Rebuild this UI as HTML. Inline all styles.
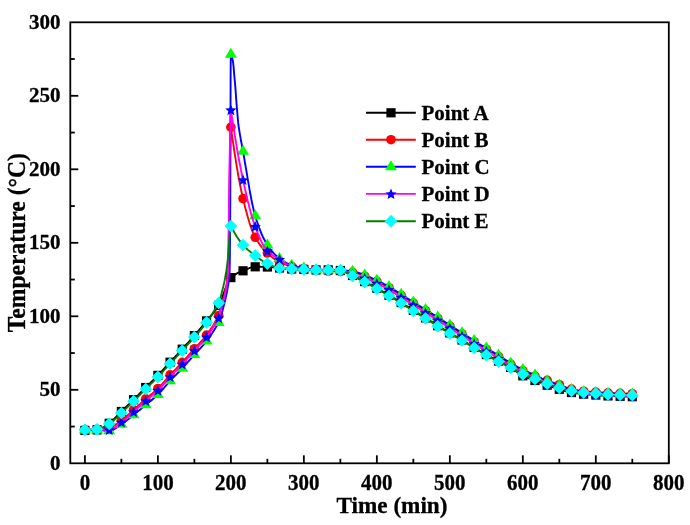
<!DOCTYPE html>
<html><head><meta charset="utf-8"><style>
html,body{margin:0;padding:0;background:#fff;}
body{width:690px;height:525px;overflow:hidden;}
svg{display:block;}
text{font-family:"Liberation Serif",serif;font-weight:bold;font-size:21px;fill:#000;stroke:#000;stroke-width:0.3px;}
text.lg{font-size:21px;}
text.ttl{font-size:23.2px;}
text.ttl2{font-size:23.6px;}
svg{will-change:transform;}
</style></head><body>
<svg width="690" height="525" viewBox="0 0 690 525">
<rect width="690" height="525" fill="#fff"/>
<path d="M84.9,430.4 L86.0,430.4 L87.1,430.4 L88.2,430.4 L89.3,430.3 L90.4,430.3 L91.5,430.2 L92.6,430.1 L93.7,430.1 L94.8,430.0 L95.9,429.9 L97.0,429.8 L98.1,429.7 L99.2,429.4 L100.3,429.0 L101.4,428.5 L102.4,427.9 L103.5,427.2 L104.6,426.5 L105.7,425.8 L106.8,425.0 L107.9,424.2 L109.0,423.4 L110.1,422.6 L111.2,421.8 L112.3,420.8 L113.4,419.7 L114.5,418.6 L115.6,417.5 L116.7,416.4 L117.8,415.2 L118.9,414.0 L120.0,412.9 L121.1,411.8 L122.2,410.7 L123.3,409.7 L124.4,408.6 L125.5,407.5 L126.6,406.5 L127.7,405.4 L128.8,404.4 L129.9,403.3 L131.0,402.2 L132.1,401.2 L133.2,400.1 L134.3,399.0 L135.4,397.9 L136.5,396.8 L137.6,395.7 L138.7,394.6 L139.7,393.5 L140.8,392.4 L141.9,391.3 L143.0,390.2 L144.1,389.1 L145.2,388.0 L146.3,386.9 L147.4,385.8 L148.5,384.7 L149.6,383.6 L150.7,382.6 L151.8,381.5 L152.9,380.4 L154.0,379.3 L155.1,378.2 L156.2,377.1 L157.3,376.0 L158.4,374.9 L159.5,373.7 L160.6,372.5 L161.7,371.4 L162.8,370.2 L163.9,369.0 L165.0,367.7 L166.1,366.5 L167.2,365.3 L168.3,364.1 L169.4,362.9 L170.5,361.8 L171.6,360.6 L172.7,359.4 L173.8,358.2 L174.9,357.1 L175.9,355.9 L177.0,354.8 L178.1,353.6 L179.2,352.4 L180.3,351.2 L181.4,350.0 L182.5,348.9 L183.6,347.7 L184.7,346.5 L185.8,345.2 L186.9,344.0 L188.0,342.8 L189.1,341.6 L190.2,340.4 L191.3,339.1 L192.4,337.9 L193.5,336.6 L194.6,335.3 L195.7,334.1 L196.8,332.8 L197.9,331.5 L199.0,330.2 L200.1,328.8 L201.2,327.5 L202.3,326.2 L203.4,324.8 L204.5,323.5 L205.6,322.1 L206.7,320.7 L207.8,319.4 L208.9,318.1 L210.0,316.9 L211.1,315.6 L212.2,314.3 L213.2,313.0 L214.3,311.6 L215.4,310.2 L216.5,308.7 L217.6,307.1 L218.7,305.4 L219.8,303.3 L220.9,300.8 L222.0,298.1 L223.1,295.1 L224.2,292.0 L225.3,288.9 L226.4,286.0 L227.5,283.3 L228.6,280.9 L229.7,279.0 L230.8,277.7 L231.9,276.7 L233.0,275.9 L234.1,275.1 L235.2,274.4 L236.3,273.8 L237.4,273.2 L238.5,272.7 L239.6,272.2 L240.7,271.8 L241.8,271.3 L242.9,270.9 L244.0,270.4 L245.1,269.9 L246.2,269.4 L247.3,268.9 L248.4,268.5 L249.4,268.0 L250.5,267.7 L251.6,267.3 L252.7,267.1 L253.8,266.9 L254.9,266.8 L256.0,266.8 L257.1,266.8 L258.2,266.8 L259.3,266.8 L260.4,266.8 L261.5,266.9 L262.6,266.9 L263.7,266.9 L264.8,266.9 L265.9,267.0 L267.0,267.0 L268.1,267.0 L269.2,267.1 L270.3,267.1 L271.4,267.2 L272.5,267.3 L273.6,267.4 L274.7,267.5 L275.8,267.6 L276.9,267.8 L278.0,267.9 L279.1,268.0 L280.2,268.1 L281.3,268.1 L282.4,268.3 L283.5,268.4 L284.6,268.5 L285.7,268.6 L286.7,268.7 L287.8,268.7 L288.9,268.8 L290.0,268.9 L291.1,269.0 L292.2,269.0 L293.3,269.1 L294.4,269.1 L295.5,269.1 L296.6,269.2 L297.7,269.2 L298.8,269.2 L299.9,269.3 L301.0,269.3 L302.1,269.3 L303.2,269.4 L304.3,269.4 L305.4,269.5 L306.5,269.5 L307.6,269.6 L308.7,269.6 L309.8,269.7 L310.9,269.8 L312.0,269.8 L313.1,269.8 L314.2,269.9 L315.3,269.9 L316.4,269.9 L317.5,269.9 L318.6,269.9 L319.7,269.9 L320.8,269.9 L321.9,269.9 L322.9,269.9 L324.0,269.9 L325.1,269.9 L326.2,269.9 L327.3,269.9 L328.4,269.9 L329.5,269.9 L330.6,269.9 L331.7,270.0 L332.8,270.0 L333.9,270.0 L335.0,270.1 L336.1,270.2 L337.2,270.2 L338.3,270.3 L339.4,270.4 L340.5,270.5 L341.6,270.7 L342.7,271.0 L343.8,271.3 L344.9,271.7 L346.0,272.2 L347.1,272.8 L348.2,273.3 L349.3,273.9 L350.4,274.5 L351.5,275.0 L352.6,275.5 L353.7,276.0 L354.8,276.5 L355.9,277.1 L357.0,277.6 L358.1,278.2 L359.2,278.7 L360.2,279.3 L361.3,279.9 L362.4,280.4 L363.5,281.0 L364.6,281.6 L365.7,282.1 L366.8,282.7 L367.9,283.3 L369.0,283.9 L370.1,284.5 L371.2,285.1 L372.3,285.7 L373.4,286.3 L374.5,286.9 L375.6,287.5 L376.7,288.1 L377.8,288.7 L378.9,289.4 L380.0,290.0 L381.1,290.6 L382.2,291.3 L383.3,291.9 L384.4,292.6 L385.5,293.2 L386.6,293.9 L387.7,294.5 L388.8,295.2 L389.9,295.8 L391.0,296.5 L392.1,297.1 L393.2,297.8 L394.3,298.4 L395.4,299.1 L396.4,299.7 L397.5,300.4 L398.6,301.0 L399.7,301.7 L400.8,302.4 L401.9,303.1 L403.0,303.8 L404.1,304.5 L405.2,305.2 L406.3,305.9 L407.4,306.6 L408.5,307.3 L409.6,308.0 L410.7,308.7 L411.8,309.4 L412.9,310.1 L414.0,310.8 L415.1,311.5 L416.2,312.2 L417.3,312.8 L418.4,313.5 L419.5,314.2 L420.6,314.9 L421.7,315.5 L422.8,316.2 L423.9,316.9 L425.0,317.6 L426.1,318.3 L427.2,319.0 L428.3,319.7 L429.4,320.4 L430.5,321.1 L431.6,321.8 L432.7,322.5 L433.7,323.2 L434.8,323.9 L435.9,324.6 L437.0,325.3 L438.1,326.0 L439.2,326.7 L440.3,327.3 L441.4,328.0 L442.5,328.6 L443.6,329.3 L444.7,329.9 L445.8,330.5 L446.9,331.2 L448.0,331.8 L449.1,332.5 L450.2,333.1 L451.3,333.8 L452.4,334.4 L453.5,335.0 L454.6,335.7 L455.7,336.3 L456.8,336.9 L457.9,337.6 L459.0,338.2 L460.1,338.9 L461.2,339.5 L462.3,340.2 L463.4,340.8 L464.5,341.5 L465.6,342.1 L466.7,342.8 L467.8,343.5 L468.9,344.2 L469.9,344.8 L471.0,345.5 L472.1,346.2 L473.2,346.8 L474.3,347.5 L475.4,348.2 L476.5,348.8 L477.6,349.5 L478.7,350.1 L479.8,350.8 L480.9,351.5 L482.0,352.1 L483.1,352.8 L484.2,353.4 L485.3,354.0 L486.4,354.6 L487.5,355.3 L488.6,355.9 L489.7,356.5 L490.8,357.0 L491.9,357.6 L493.0,358.2 L494.1,358.8 L495.2,359.4 L496.3,359.9 L497.4,360.5 L498.5,361.1 L499.6,361.7 L500.7,362.2 L501.8,362.8 L502.9,363.3 L504.0,363.8 L505.1,364.4 L506.1,364.9 L507.2,365.5 L508.3,366.1 L509.4,366.7 L510.5,367.3 L511.6,368.0 L512.7,368.7 L513.8,369.5 L514.9,370.4 L516.0,371.2 L517.1,372.0 L518.2,372.9 L519.3,373.7 L520.4,374.4 L521.5,375.1 L522.6,375.7 L523.7,376.2 L524.8,376.7 L525.9,377.2 L527.0,377.6 L528.1,378.0 L529.2,378.4 L530.3,378.8 L531.4,379.2 L532.5,379.6 L533.6,380.0 L534.7,380.4 L535.8,380.8 L536.9,381.2 L538.0,381.7 L539.1,382.1 L540.2,382.5 L541.3,383.0 L542.4,383.4 L543.4,383.8 L544.5,384.2 L545.6,384.6 L546.7,385.1 L547.8,385.4 L548.9,385.8 L550.0,386.2 L551.1,386.6 L552.2,387.0 L553.3,387.4 L554.4,387.7 L555.5,388.1 L556.6,388.5 L557.7,388.8 L558.8,389.1 L559.9,389.5 L561.0,389.8 L562.1,390.1 L563.2,390.5 L564.3,390.8 L565.4,391.1 L566.5,391.4 L567.6,391.7 L568.7,391.9 L569.8,392.2 L570.9,392.4 L572.0,392.6 L573.1,392.8 L574.2,392.9 L575.3,393.1 L576.4,393.3 L577.5,393.4 L578.6,393.5 L579.6,393.7 L580.7,393.8 L581.8,393.9 L582.9,394.0 L584.0,394.1 L585.1,394.2 L586.2,394.3 L587.3,394.4 L588.4,394.5 L589.5,394.6 L590.6,394.6 L591.7,394.7 L592.8,394.8 L593.9,394.9 L595.0,394.9 L596.1,395.0 L597.2,395.1 L598.3,395.2 L599.4,395.3 L600.5,395.4 L601.6,395.5 L602.7,395.6 L603.8,395.6 L604.9,395.7 L606.0,395.8 L607.1,395.9 L608.2,395.9 L609.3,396.0 L610.4,396.0 L611.5,396.0 L612.6,396.1 L613.7,396.1 L614.8,396.1 L615.9,396.2 L616.9,396.2 L618.0,396.2 L619.1,396.3 L620.2,396.3 L621.3,396.3 L622.4,396.4 L623.5,396.4 L624.6,396.4 L625.7,396.5 L626.8,396.5 L627.9,396.6 L629.0,396.6 L630.1,396.6 L631.2,396.7 L632.3,396.7" fill="none" stroke="#000000" stroke-width="1.90" stroke-linejoin="round"/>
<rect x="80.30" y="425.80" width="9.20" height="9.20" fill="#000000"/>
<rect x="92.46" y="425.20" width="9.20" height="9.20" fill="#000000"/>
<rect x="104.63" y="418.70" width="9.20" height="9.20" fill="#000000"/>
<rect x="116.79" y="406.90" width="9.20" height="9.20" fill="#000000"/>
<rect x="128.96" y="395.10" width="9.20" height="9.20" fill="#000000"/>
<rect x="141.12" y="382.90" width="9.20" height="9.20" fill="#000000"/>
<rect x="153.29" y="370.80" width="9.20" height="9.20" fill="#000000"/>
<rect x="165.45" y="357.60" width="9.20" height="9.20" fill="#000000"/>
<rect x="177.61" y="344.60" width="9.20" height="9.20" fill="#000000"/>
<rect x="189.78" y="331.00" width="9.20" height="9.20" fill="#000000"/>
<rect x="201.94" y="316.30" width="9.20" height="9.20" fill="#000000"/>
<rect x="214.11" y="300.80" width="9.20" height="9.20" fill="#000000"/>
<rect x="226.27" y="273.00" width="9.20" height="9.20" fill="#000000"/>
<rect x="238.44" y="266.20" width="9.20" height="9.20" fill="#000000"/>
<rect x="250.60" y="262.20" width="9.20" height="9.20" fill="#000000"/>
<rect x="262.77" y="262.40" width="9.20" height="9.20" fill="#000000"/>
<rect x="274.93" y="263.40" width="9.20" height="9.20" fill="#000000"/>
<rect x="287.10" y="264.40" width="9.20" height="9.20" fill="#000000"/>
<rect x="299.26" y="264.80" width="9.20" height="9.20" fill="#000000"/>
<rect x="311.43" y="265.30" width="9.20" height="9.20" fill="#000000"/>
<rect x="323.59" y="265.30" width="9.20" height="9.20" fill="#000000"/>
<rect x="335.75" y="265.90" width="9.20" height="9.20" fill="#000000"/>
<rect x="347.92" y="270.90" width="9.20" height="9.20" fill="#000000"/>
<rect x="360.08" y="277.00" width="9.20" height="9.20" fill="#000000"/>
<rect x="372.25" y="283.60" width="9.20" height="9.20" fill="#000000"/>
<rect x="384.41" y="290.70" width="9.20" height="9.20" fill="#000000"/>
<rect x="396.58" y="298.00" width="9.20" height="9.20" fill="#000000"/>
<rect x="408.74" y="305.80" width="9.20" height="9.20" fill="#000000"/>
<rect x="420.91" y="313.30" width="9.20" height="9.20" fill="#000000"/>
<rect x="433.07" y="321.10" width="9.20" height="9.20" fill="#000000"/>
<rect x="445.24" y="328.30" width="9.20" height="9.20" fill="#000000"/>
<rect x="457.40" y="335.40" width="9.20" height="9.20" fill="#000000"/>
<rect x="469.57" y="342.80" width="9.20" height="9.20" fill="#000000"/>
<rect x="481.73" y="350.00" width="9.20" height="9.20" fill="#000000"/>
<rect x="493.90" y="356.50" width="9.20" height="9.20" fill="#000000"/>
<rect x="506.06" y="362.80" width="9.20" height="9.20" fill="#000000"/>
<rect x="518.22" y="371.20" width="9.20" height="9.20" fill="#000000"/>
<rect x="530.39" y="375.90" width="9.20" height="9.20" fill="#000000"/>
<rect x="542.55" y="380.60" width="9.20" height="9.20" fill="#000000"/>
<rect x="554.72" y="384.70" width="9.20" height="9.20" fill="#000000"/>
<rect x="566.88" y="387.90" width="9.20" height="9.20" fill="#000000"/>
<rect x="579.05" y="389.50" width="9.20" height="9.20" fill="#000000"/>
<rect x="591.21" y="390.40" width="9.20" height="9.20" fill="#000000"/>
<rect x="603.38" y="391.30" width="9.20" height="9.20" fill="#000000"/>
<rect x="615.54" y="391.70" width="9.20" height="9.20" fill="#000000"/>
<rect x="627.71" y="392.10" width="9.20" height="9.20" fill="#000000"/>
<path d="M84.9,429.8 L86.0,429.8 L87.1,429.8 L88.3,429.8 L89.4,429.7 L90.5,429.7 L91.6,429.7 L92.8,429.6 L93.9,429.6 L95.0,429.5 L96.1,429.4 L97.3,429.4 L98.4,429.3 L99.5,429.2 L100.6,429.1 L101.8,429.0 L102.9,428.9 L104.0,428.8 L105.1,428.6 L106.3,428.4 L107.4,428.3 L108.5,428.0 L109.6,427.8 L110.8,427.4 L111.9,427.0 L113.0,426.4 L114.1,425.7 L115.3,424.9 L116.4,424.1 L117.5,423.3 L118.6,422.4 L119.8,421.5 L120.9,420.7 L122.0,419.8 L123.1,419.0 L124.3,418.1 L125.4,417.2 L126.5,416.2 L127.6,415.2 L128.8,414.2 L129.9,413.2 L131.0,412.2 L132.1,411.2 L133.2,410.2 L134.4,409.2 L135.5,408.2 L136.6,407.2 L137.7,406.1 L138.9,405.1 L140.0,404.1 L141.1,403.0 L142.2,402.0 L143.4,401.0 L144.5,400.0 L145.6,399.0 L146.7,398.0 L147.9,397.1 L149.0,396.1 L150.1,395.2 L151.2,394.3 L152.4,393.4 L153.5,392.4 L154.6,391.5 L155.7,390.5 L156.9,389.5 L158.0,388.4 L159.1,387.3 L160.2,386.1 L161.4,384.8 L162.5,383.6 L163.6,382.3 L164.7,381.0 L165.9,379.6 L167.0,378.3 L168.1,377.1 L169.2,375.8 L170.4,374.6 L171.5,373.4 L172.6,372.2 L173.7,371.0 L174.9,369.9 L176.0,368.8 L177.1,367.6 L178.2,366.5 L179.4,365.3 L180.5,364.1 L181.6,363.0 L182.7,361.7 L183.9,360.5 L185.0,359.3 L186.1,358.0 L187.2,356.8 L188.3,355.5 L189.5,354.2 L190.6,353.0 L191.7,351.7 L192.8,350.4 L194.0,349.2 L195.1,347.9 L196.2,346.7 L197.3,345.5 L198.5,344.3 L199.6,343.1 L200.7,341.9 L201.8,340.7 L203.0,339.5 L204.1,338.2 L205.2,336.8 L206.3,335.4 L207.5,333.9 L208.6,332.3 L209.7,330.6 L210.8,328.9 L212.0,327.2 L213.1,325.4 L214.2,323.5 L215.3,321.6 L216.5,319.6 L217.6,317.6 L218.7,315.5 L218.9,315.0 L219.0,314.5 L219.2,313.9 L219.3,313.4 L219.5,312.9 L219.6,312.3 L219.8,311.8 L219.9,311.3 L220.1,310.7 L220.2,310.2 L220.4,309.6 L220.6,309.1 L220.7,308.5 L220.9,307.9 L221.0,307.4 L221.2,306.8 L221.3,306.2 L221.5,305.7 L221.6,305.1 L221.8,304.5 L221.9,303.9 L222.1,303.3 L222.3,302.7 L222.4,302.1 L222.6,301.6 L222.7,301.0 L222.9,300.4 L223.0,299.9 L223.2,299.3 L223.3,298.8 L223.5,298.2 L223.6,297.7 L223.8,297.1 L223.9,296.5 L224.1,296.0 L224.3,295.4 L224.4,294.8 L224.6,294.2 L224.7,293.5 L224.9,292.9 L225.0,292.2 L225.2,291.5 L225.3,290.8 L225.5,290.1 L225.6,289.3 L225.8,288.5 L225.9,287.6 L226.1,286.7 L226.3,285.9 L226.4,285.1 L226.6,284.3 L226.7,283.4 L226.9,282.5 L227.0,281.5 L227.2,280.4 L227.3,279.1 L227.5,277.7 L227.6,276.1 L227.8,274.3 L227.9,272.3 L228.1,270.0 L228.3,267.1 L228.4,260.8 L228.6,251.5 L228.7,240.9 L228.9,230.5 L229.0,220.9 L229.2,210.6 L229.3,200.0 L229.5,189.6 L229.6,180.0 L229.8,171.5 L229.9,163.9 L230.1,156.6 L230.3,149.7 L230.4,143.2 L230.6,137.3 L230.7,131.9 L230.9,127.2 L231.5,132.0 L232.2,136.7 L232.9,141.4 L233.6,145.9 L234.2,150.4 L234.9,154.8 L235.6,159.1 L236.2,163.2 L236.9,167.3 L237.6,171.2 L238.2,175.1 L238.9,178.8 L239.6,182.4 L240.3,185.8 L240.9,189.1 L241.6,192.3 L242.3,195.3 L242.9,198.2 L243.6,200.9 L244.3,203.6 L244.9,206.3 L245.6,208.9 L246.3,211.4 L247.0,213.9 L247.6,216.3 L248.3,218.7 L249.0,220.9 L249.6,223.1 L250.3,225.2 L251.0,227.2 L251.6,229.1 L252.3,230.9 L253.0,232.6 L253.7,234.1 L254.3,235.6 L255.0,236.9 L255.7,238.1 L256.3,239.3 L257.0,240.4 L257.7,241.5 L258.4,242.5 L259.0,243.5 L259.7,244.4 L260.4,245.3 L261.0,246.2 L261.7,247.0 L262.4,247.8 L263.0,248.6 L263.7,249.3 L264.4,250.0 L265.1,250.7 L265.7,251.4 L266.4,252.1 L267.1,252.7 L267.7,253.3 L268.4,254.0 L269.1,254.6 L269.7,255.2 L270.4,255.7 L271.1,256.3 L271.8,256.9 L272.4,257.4 L273.1,257.9 L273.8,258.4 L274.4,258.9 L275.1,259.4 L275.8,259.8 L276.4,260.3 L277.1,260.7 L277.8,261.1 L278.5,261.4 L279.1,261.8 L279.8,262.1 L280.5,262.5 L281.1,262.8 L281.8,263.1 L282.5,263.4 L283.1,263.7 L283.8,263.9 L284.5,264.2 L285.2,264.5 L285.8,264.7 L286.5,265.0 L287.2,265.2 L287.8,265.4 L288.5,265.6 L289.2,265.8 L289.8,266.0 L290.5,266.2 L291.2,266.4 L291.9,266.5 L292.5,266.7 L293.2,266.8 L293.9,267.0 L294.5,267.1 L295.2,267.2 L295.9,267.3 L296.6,267.5 L297.2,267.6 L297.9,267.7 L298.6,267.8 L299.2,267.9 L299.9,268.0 L300.6,268.1 L301.2,268.2 L301.9,268.3 L302.6,268.3 L303.3,268.4 L303.9,268.5 L304.6,268.6 L305.3,268.7 L305.9,268.7 L306.6,268.8 L307.3,268.8 L307.9,268.9 L308.6,269.0 L309.3,269.0 L310.0,269.1 L310.6,269.1 L311.3,269.2 L312.0,269.2 L312.6,269.3 L313.3,269.3 L314.0,269.4 L314.6,269.5 L315.3,269.5 L316.0,269.6 L316.7,269.7 L317.3,269.8 L318.0,269.8 L318.7,269.9 L319.3,270.0 L320.0,270.1 L320.7,270.2 L321.3,270.3 L322.0,270.4 L322.7,270.5 L323.4,270.6 L324.0,270.7 L324.7,270.8 L325.4,270.9 L326.0,270.9 L326.7,271.0 L327.4,271.1 L328.0,271.1 L328.7,271.1 L329.4,271.1 L330.1,271.2 L330.7,271.2 L331.4,271.2 L332.1,271.2 L332.7,271.2 L333.4,271.2 L334.1,271.3 L334.7,271.3 L335.4,271.3 L336.1,271.3 L336.8,271.3 L337.4,271.3 L338.1,271.3 L338.8,271.3 L339.4,271.4 L340.1,271.4 L340.8,271.4 L341.5,271.4 L342.1,271.5 L342.8,271.5 L343.5,271.5 L344.1,271.6 L344.8,271.6 L345.5,271.7 L346.1,271.7 L346.8,271.8 L347.5,271.8 L348.2,271.9 L348.8,271.9 L349.5,272.0 L350.2,272.0 L350.8,272.1 L351.5,272.2 L352.2,272.3 L352.8,272.3 L353.5,272.4 L354.2,272.6 L354.9,272.7 L355.5,272.9 L356.2,273.1 L356.9,273.3 L357.5,273.5 L358.2,273.7 L358.9,274.0 L359.5,274.2 L360.2,274.5 L360.9,274.7 L361.6,275.0 L362.2,275.3 L362.9,275.5 L363.6,275.8 L364.2,276.0 L364.9,276.3 L365.6,276.5 L366.2,276.8 L366.9,277.1 L367.6,277.3 L368.3,277.6 L368.9,277.9 L369.6,278.1 L370.3,278.4 L370.9,278.7 L371.6,279.0 L372.3,279.3 L372.9,279.6 L373.6,279.9 L374.3,280.2 L375.0,280.5 L375.6,280.8 L376.3,281.1 L377.0,281.5 L377.6,281.8 L378.3,282.1 L379.0,282.4 L379.7,282.7 L380.3,283.1 L381.0,283.4 L381.7,283.7 L382.3,284.1 L383.0,284.4 L383.7,284.8 L384.3,285.1 L385.0,285.5 L385.7,285.9 L386.4,286.2 L387.0,286.6 L387.7,287.0 L388.4,287.3 L389.0,287.7 L389.7,288.1 L390.4,288.5 L391.0,288.9 L391.7,289.3 L392.4,289.7 L393.1,290.1 L393.7,290.6 L394.4,291.0 L395.1,291.4 L395.7,291.9 L396.4,292.3 L397.1,292.7 L397.7,293.2 L398.4,293.6 L399.1,294.1 L399.8,294.5 L400.4,294.9 L401.1,295.3 L401.8,295.8 L402.4,296.2 L403.1,296.6 L403.8,297.0 L404.4,297.5 L405.1,297.9 L405.8,298.3 L406.5,298.7 L407.1,299.2 L407.8,299.6 L408.5,300.0 L409.1,300.4 L409.8,300.9 L410.5,301.3 L411.1,301.7 L411.8,302.1 L412.5,302.6 L413.2,303.0 L413.8,303.4 L414.5,303.8 L415.2,304.2 L415.8,304.7 L416.5,305.1 L417.2,305.5 L417.9,305.9 L418.5,306.3 L419.2,306.8 L419.9,307.2 L420.5,307.6 L421.2,308.0 L421.9,308.4 L422.5,308.9 L423.2,309.3 L423.9,309.7 L424.6,310.1 L425.2,310.5 L425.9,310.9 L426.6,311.4 L427.2,311.8 L427.9,312.2 L428.6,312.6 L429.2,313.0 L429.9,313.4 L430.6,313.8 L431.3,314.2 L431.9,314.6 L432.6,315.0 L433.3,315.5 L433.9,315.9 L434.6,316.3 L435.3,316.7 L435.9,317.1 L436.6,317.5 L437.3,318.0 L438.0,318.4 L438.6,318.8 L439.3,319.2 L440.0,319.7 L440.6,320.1 L441.3,320.5 L442.0,321.0 L442.6,321.4 L443.3,321.8 L444.0,322.3 L444.7,322.7 L445.3,323.2 L446.0,323.6 L446.7,324.0 L447.3,324.5 L448.0,324.9 L448.7,325.4 L449.3,325.8 L450.0,326.2 L450.7,326.6 L451.4,327.1 L452.0,327.5 L452.7,327.9 L453.4,328.4 L454.0,328.8 L454.7,329.2 L455.4,329.7 L456.1,330.1 L456.7,330.5 L457.4,330.9 L458.1,331.4 L458.7,331.8 L459.4,332.2 L460.1,332.7 L460.7,333.1 L461.4,333.5 L462.1,334.0 L462.8,334.4 L463.4,334.8 L464.1,335.2 L464.8,335.7 L465.4,336.1 L466.1,336.5 L466.8,337.0 L467.4,337.4 L468.1,337.8 L468.8,338.3 L469.5,338.7 L470.1,339.1 L470.8,339.6 L471.5,340.0 L472.1,340.4 L472.8,340.8 L473.5,341.3 L474.1,341.7 L474.8,342.1 L475.5,342.5 L476.2,342.9 L476.8,343.4 L477.5,343.8 L478.2,344.2 L478.8,344.6 L479.5,345.0 L480.2,345.5 L480.8,345.9 L481.5,346.3 L482.2,346.7 L482.9,347.1 L483.5,347.5 L484.2,347.9 L484.9,348.3 L485.5,348.7 L486.2,349.1 L486.9,349.5 L487.5,349.9 L488.2,350.3 L488.9,350.7 L489.6,351.1 L490.2,351.5 L490.9,351.9 L491.6,352.3 L492.2,352.6 L492.9,353.0 L493.6,353.4 L494.3,353.8 L494.9,354.2 L495.6,354.6 L496.3,355.0 L496.9,355.4 L497.6,355.8 L498.3,356.2 L498.9,356.6 L499.6,357.0 L500.3,357.4 L501.0,357.9 L501.6,358.3 L502.3,358.7 L503.0,359.2 L503.6,359.6 L504.3,360.1 L505.0,360.5 L505.6,360.9 L506.3,361.4 L507.0,361.8 L507.7,362.3 L508.3,362.7 L509.0,363.1 L509.7,363.5 L510.3,363.9 L511.0,364.3 L511.7,364.7 L512.3,365.1 L513.0,365.4 L513.7,365.8 L514.4,366.2 L515.0,366.6 L515.7,366.9 L516.4,367.3 L517.0,367.6 L517.7,368.0 L518.4,368.3 L519.0,368.7 L519.7,369.0 L520.4,369.4 L521.1,369.7 L521.7,370.1 L522.4,370.4 L523.1,370.7 L523.7,371.1 L524.4,371.4 L525.1,371.7 L525.7,372.0 L526.4,372.4 L527.1,372.7 L527.8,373.0 L528.4,373.3 L529.1,373.6 L529.8,374.0 L530.4,374.3 L531.1,374.6 L531.8,374.9 L532.5,375.2 L533.1,375.4 L533.8,375.7 L534.5,376.0 L535.1,376.3 L535.8,376.5 L536.5,376.8 L537.1,377.0 L537.8,377.3 L538.5,377.5 L539.2,377.7 L539.8,378.0 L540.5,378.2 L541.2,378.4 L541.8,378.6 L542.5,378.8 L543.2,379.1 L543.8,379.3 L544.5,379.5 L545.2,379.7 L545.9,380.0 L546.5,380.2 L547.2,380.4 L547.9,380.6 L548.5,380.9 L549.2,381.1 L549.9,381.4 L550.5,381.6 L551.2,381.8 L551.9,382.1 L552.6,382.3 L553.2,382.5 L553.9,382.8 L554.6,383.0 L555.2,383.2 L555.9,383.5 L556.6,383.7 L557.2,384.0 L557.9,384.2 L558.6,384.4 L559.3,384.7 L559.9,384.9 L560.6,385.2 L561.3,385.4 L561.9,385.7 L562.6,386.0 L563.3,386.2 L563.9,386.5 L564.6,386.8 L565.3,387.0 L566.0,387.3 L566.6,387.6 L567.3,387.8 L568.0,388.1 L568.6,388.3 L569.3,388.5 L570.0,388.7 L570.7,388.9 L571.3,389.1 L572.0,389.2 L572.7,389.4 L573.3,389.5 L574.0,389.7 L574.7,389.8 L575.3,389.9 L576.0,390.1 L576.7,390.2 L577.4,390.3 L578.0,390.4 L578.7,390.5 L579.4,390.6 L580.0,390.7 L580.7,390.8 L581.4,390.9 L582.0,391.0 L582.7,391.1 L583.4,391.2 L584.1,391.2 L584.7,391.3 L585.4,391.4 L586.1,391.4 L586.7,391.5 L587.4,391.5 L588.1,391.6 L588.7,391.6 L589.4,391.7 L590.1,391.7 L590.8,391.8 L591.4,391.8 L592.1,391.9 L592.8,391.9 L593.4,391.9 L594.1,392.0 L594.8,392.0 L595.4,392.1 L596.1,392.1 L596.8,392.2 L597.5,392.2 L598.1,392.2 L598.8,392.3 L599.5,392.3 L600.1,392.4 L600.8,392.4 L601.5,392.5 L602.1,392.5 L602.8,392.5 L603.5,392.6 L604.2,392.6 L604.8,392.6 L605.5,392.7 L606.2,392.7 L606.8,392.7 L607.5,392.8 L608.2,392.8 L608.9,392.8 L609.5,392.9 L610.2,392.9 L610.9,392.9 L611.5,393.0 L612.2,393.0 L612.9,393.0 L613.5,393.0 L614.2,393.1 L614.9,393.1 L615.6,393.1 L616.2,393.2 L616.9,393.2 L617.6,393.2 L618.2,393.2 L618.9,393.3 L619.6,393.3 L620.2,393.3 L620.9,393.3 L621.6,393.4 L622.3,393.4 L622.9,393.4 L623.6,393.4 L624.3,393.4 L624.9,393.5 L625.6,393.5 L626.3,393.5 L626.9,393.5 L627.6,393.6 L628.3,393.6 L629.0,393.6 L629.6,393.6 L630.3,393.6 L631.0,393.7 L631.6,393.7 L632.3,393.7" fill="none" stroke="#ff0000" stroke-width="1.90" stroke-linejoin="round"/>
<circle cx="84.90" cy="429.80" r="4.8" fill="#ff0000"/>
<circle cx="97.06" cy="429.40" r="4.8" fill="#ff0000"/>
<circle cx="109.23" cy="427.90" r="4.8" fill="#ff0000"/>
<circle cx="121.39" cy="420.30" r="4.8" fill="#ff0000"/>
<circle cx="133.56" cy="409.90" r="4.8" fill="#ff0000"/>
<circle cx="145.72" cy="398.90" r="4.8" fill="#ff0000"/>
<circle cx="157.89" cy="388.50" r="4.8" fill="#ff0000"/>
<circle cx="170.05" cy="374.90" r="4.8" fill="#ff0000"/>
<circle cx="182.21" cy="362.30" r="4.8" fill="#ff0000"/>
<circle cx="194.38" cy="348.70" r="4.8" fill="#ff0000"/>
<circle cx="206.54" cy="335.10" r="4.8" fill="#ff0000"/>
<circle cx="218.71" cy="315.50" r="4.8" fill="#ff0000"/>
<circle cx="230.87" cy="127.20" r="4.8" fill="#ff0000"/>
<circle cx="243.04" cy="198.60" r="4.8" fill="#ff0000"/>
<circle cx="255.20" cy="237.30" r="4.8" fill="#ff0000"/>
<circle cx="267.37" cy="253.00" r="4.8" fill="#ff0000"/>
<circle cx="279.53" cy="262.00" r="4.8" fill="#ff0000"/>
<circle cx="291.70" cy="266.50" r="4.8" fill="#ff0000"/>
<circle cx="303.86" cy="268.50" r="4.8" fill="#ff0000"/>
<circle cx="316.03" cy="269.60" r="4.8" fill="#ff0000"/>
<circle cx="328.19" cy="271.10" r="4.8" fill="#ff0000"/>
<circle cx="340.35" cy="271.40" r="4.8" fill="#ff0000"/>
<circle cx="352.52" cy="272.30" r="4.8" fill="#ff0000"/>
<circle cx="364.68" cy="276.20" r="4.8" fill="#ff0000"/>
<circle cx="376.85" cy="281.40" r="4.8" fill="#ff0000"/>
<circle cx="389.01" cy="287.70" r="4.8" fill="#ff0000"/>
<circle cx="401.18" cy="295.40" r="4.8" fill="#ff0000"/>
<circle cx="413.34" cy="303.10" r="4.8" fill="#ff0000"/>
<circle cx="425.51" cy="310.70" r="4.8" fill="#ff0000"/>
<circle cx="437.67" cy="318.20" r="4.8" fill="#ff0000"/>
<circle cx="449.84" cy="326.10" r="4.8" fill="#ff0000"/>
<circle cx="462.00" cy="333.90" r="4.8" fill="#ff0000"/>
<circle cx="474.17" cy="341.70" r="4.8" fill="#ff0000"/>
<circle cx="486.33" cy="349.20" r="4.8" fill="#ff0000"/>
<circle cx="498.50" cy="356.30" r="4.8" fill="#ff0000"/>
<circle cx="510.66" cy="364.10" r="4.8" fill="#ff0000"/>
<circle cx="522.82" cy="370.60" r="4.8" fill="#ff0000"/>
<circle cx="534.99" cy="376.20" r="4.8" fill="#ff0000"/>
<circle cx="547.15" cy="380.40" r="4.8" fill="#ff0000"/>
<circle cx="559.32" cy="384.70" r="4.8" fill="#ff0000"/>
<circle cx="571.48" cy="389.10" r="4.8" fill="#ff0000"/>
<circle cx="583.65" cy="391.20" r="4.8" fill="#ff0000"/>
<circle cx="595.81" cy="392.10" r="4.8" fill="#ff0000"/>
<circle cx="607.98" cy="392.80" r="4.8" fill="#ff0000"/>
<circle cx="620.14" cy="393.30" r="4.8" fill="#ff0000"/>
<circle cx="632.31" cy="393.70" r="4.8" fill="#ff0000"/>
<path d="M84.9,430.0 L86.0,430.0 L87.1,430.0 L88.3,430.0 L89.4,430.0 L90.5,430.0 L91.6,430.0 L92.8,430.0 L93.9,430.0 L95.0,430.0 L96.1,430.0 L97.3,430.0 L98.4,430.0 L99.5,430.1 L100.6,430.2 L101.8,430.3 L102.9,430.4 L104.0,430.5 L105.1,430.7 L106.3,430.8 L107.4,430.8 L108.5,430.9 L109.6,430.9 L110.8,430.7 L111.9,430.4 L113.0,429.9 L114.1,429.3 L115.3,428.6 L116.4,427.8 L117.5,427.0 L118.6,426.2 L119.8,425.4 L120.9,424.6 L122.0,423.9 L123.1,423.1 L124.3,422.3 L125.4,421.5 L126.5,420.6 L127.6,419.7 L128.8,418.8 L129.9,417.9 L131.0,417.0 L132.1,416.1 L133.2,415.1 L134.4,414.2 L135.5,413.3 L136.6,412.4 L137.7,411.5 L138.9,410.6 L140.0,409.7 L141.1,408.7 L142.2,407.8 L143.4,406.9 L144.5,405.9 L145.6,405.0 L146.7,404.0 L147.9,403.1 L149.0,402.2 L150.1,401.3 L151.2,400.4 L152.4,399.4 L153.5,398.5 L154.6,397.5 L155.7,396.5 L156.9,395.5 L158.0,394.4 L159.1,393.3 L160.2,392.1 L161.4,390.8 L162.5,389.6 L163.6,388.3 L164.7,387.0 L165.9,385.6 L167.0,384.3 L168.1,383.1 L169.2,381.8 L170.4,380.6 L171.5,379.4 L172.6,378.2 L173.7,377.0 L174.9,375.9 L176.0,374.8 L177.1,373.6 L178.2,372.5 L179.4,371.3 L180.5,370.1 L181.6,369.0 L182.7,367.7 L183.9,366.5 L185.0,365.3 L186.1,364.0 L187.2,362.8 L188.3,361.5 L189.5,360.2 L190.6,359.0 L191.7,357.7 L192.8,356.4 L194.0,355.2 L195.1,353.9 L196.2,352.7 L197.3,351.5 L198.5,350.3 L199.6,349.1 L200.7,347.9 L201.8,346.7 L203.0,345.4 L204.1,344.1 L205.2,342.8 L206.3,341.4 L207.5,339.9 L208.6,338.4 L209.7,336.8 L210.8,335.2 L212.0,333.5 L213.1,331.8 L214.2,330.0 L215.3,328.2 L216.5,326.3 L217.6,324.4 L218.7,322.5 L218.9,322.1 L219.0,321.7 L219.2,321.3 L219.3,320.8 L219.5,320.4 L219.6,319.9 L219.8,319.5 L219.9,319.0 L220.1,318.6 L220.2,318.1 L220.4,317.6 L220.6,317.1 L220.7,316.6 L220.9,316.1 L221.0,315.6 L221.2,315.1 L221.3,314.6 L221.5,314.1 L221.6,313.5 L221.8,313.0 L221.9,312.5 L222.1,311.9 L222.3,311.4 L222.4,310.8 L222.6,310.3 L222.7,309.7 L222.9,309.1 L223.0,308.6 L223.2,308.0 L223.3,307.4 L223.5,306.8 L223.6,306.2 L223.8,305.6 L223.9,305.1 L224.1,304.5 L224.3,303.9 L224.4,303.2 L224.6,302.6 L224.7,302.0 L224.9,301.4 L225.0,300.7 L225.2,300.1 L225.3,299.4 L225.5,298.8 L225.6,298.1 L225.8,297.4 L225.9,296.7 L226.1,296.0 L226.3,295.3 L226.4,294.5 L226.6,293.8 L226.7,293.0 L226.9,292.2 L227.0,291.4 L227.2,290.6 L227.3,289.7 L227.5,288.9 L227.6,288.0 L227.8,287.1 L227.9,286.2 L228.1,285.2 L228.3,284.2 L228.4,283.2 L228.6,282.1 L228.7,280.9 L228.9,279.7 L229.0,278.5 L229.2,277.2 L229.3,275.9 L229.5,274.2 L229.6,271.2 L229.8,263.0 L229.9,249.6 L230.1,230.8 L230.3,198.0 L230.4,152.5 L230.6,81.9 L230.7,62.1 L230.9,54.4 L231.5,55.4 L232.2,57.8 L232.9,61.0 L233.6,66.9 L234.2,74.6 L234.9,82.2 L235.6,90.4 L236.2,99.2 L236.9,108.0 L237.6,116.2 L238.2,122.9 L238.9,128.1 L239.6,132.6 L240.3,136.6 L240.9,140.3 L241.6,143.8 L242.3,147.2 L242.9,150.8 L243.6,154.6 L244.3,158.5 L244.9,162.4 L245.6,166.4 L246.3,170.4 L247.0,174.4 L247.6,178.4 L248.3,182.3 L249.0,186.2 L249.6,190.0 L250.3,193.7 L251.0,197.3 L251.6,200.8 L252.3,204.0 L253.0,207.1 L253.7,210.0 L254.3,212.7 L255.0,215.1 L255.7,217.3 L256.3,219.5 L257.0,221.5 L257.7,223.5 L258.4,225.5 L259.0,227.3 L259.7,229.1 L260.4,230.8 L261.0,232.5 L261.7,234.1 L262.4,235.6 L263.0,237.1 L263.7,238.5 L264.4,239.8 L265.1,241.1 L265.7,242.3 L266.4,243.5 L267.1,244.5 L267.7,245.5 L268.4,246.5 L269.1,247.5 L269.7,248.4 L270.4,249.3 L271.1,250.1 L271.8,251.0 L272.4,251.8 L273.1,252.5 L273.8,253.3 L274.4,254.0 L275.1,254.7 L275.8,255.3 L276.4,255.9 L277.1,256.5 L277.8,257.1 L278.5,257.7 L279.1,258.2 L279.8,258.7 L280.5,259.2 L281.1,259.7 L281.8,260.1 L282.5,260.6 L283.1,261.0 L283.8,261.5 L284.5,261.9 L285.2,262.3 L285.8,262.7 L286.5,263.0 L287.2,263.4 L287.8,263.7 L288.5,264.0 L289.2,264.3 L289.8,264.6 L290.5,264.9 L291.2,265.1 L291.9,265.4 L292.5,265.6 L293.2,265.8 L293.9,266.0 L294.5,266.1 L295.2,266.3 L295.9,266.5 L296.6,266.6 L297.2,266.8 L297.9,266.9 L298.6,267.1 L299.2,267.2 L299.9,267.4 L300.6,267.5 L301.2,267.6 L301.9,267.7 L302.6,267.9 L303.3,268.0 L303.9,268.1 L304.6,268.2 L305.3,268.4 L305.9,268.5 L306.6,268.6 L307.3,268.7 L307.9,268.9 L308.6,269.0 L309.3,269.1 L310.0,269.2 L310.6,269.3 L311.3,269.4 L312.0,269.5 L312.6,269.6 L313.3,269.7 L314.0,269.8 L314.6,269.8 L315.3,269.9 L316.0,269.9 L316.7,269.9 L317.3,269.9 L318.0,269.9 L318.7,270.0 L319.3,270.0 L320.0,270.0 L320.7,270.0 L321.3,270.0 L322.0,270.0 L322.7,270.0 L323.4,270.0 L324.0,270.0 L324.7,270.0 L325.4,270.1 L326.0,270.1 L326.7,270.1 L327.4,270.1 L328.0,270.1 L328.7,270.1 L329.4,270.1 L330.1,270.1 L330.7,270.1 L331.4,270.2 L332.1,270.2 L332.7,270.2 L333.4,270.2 L334.1,270.2 L334.7,270.2 L335.4,270.3 L336.1,270.3 L336.8,270.3 L337.4,270.3 L338.1,270.3 L338.8,270.3 L339.4,270.4 L340.1,270.4 L340.8,270.4 L341.5,270.4 L342.1,270.5 L342.8,270.5 L343.5,270.5 L344.1,270.6 L344.8,270.6 L345.5,270.7 L346.1,270.7 L346.8,270.8 L347.5,270.8 L348.2,270.9 L348.8,270.9 L349.5,271.0 L350.2,271.0 L350.8,271.1 L351.5,271.2 L352.2,271.3 L352.8,271.3 L353.5,271.4 L354.2,271.6 L354.9,271.7 L355.5,271.9 L356.2,272.1 L356.9,272.3 L357.5,272.5 L358.2,272.7 L358.9,273.0 L359.5,273.2 L360.2,273.5 L360.9,273.7 L361.6,274.0 L362.2,274.3 L362.9,274.5 L363.6,274.8 L364.2,275.0 L364.9,275.3 L365.6,275.5 L366.2,275.8 L366.9,276.1 L367.6,276.3 L368.3,276.6 L368.9,276.9 L369.6,277.1 L370.3,277.4 L370.9,277.7 L371.6,278.0 L372.3,278.3 L372.9,278.6 L373.6,278.9 L374.3,279.2 L375.0,279.5 L375.6,279.8 L376.3,280.1 L377.0,280.5 L377.6,280.8 L378.3,281.1 L379.0,281.4 L379.7,281.7 L380.3,282.1 L381.0,282.4 L381.7,282.7 L382.3,283.1 L383.0,283.4 L383.7,283.8 L384.3,284.1 L385.0,284.5 L385.7,284.9 L386.4,285.2 L387.0,285.6 L387.7,286.0 L388.4,286.3 L389.0,286.7 L389.7,287.1 L390.4,287.5 L391.0,287.9 L391.7,288.3 L392.4,288.7 L393.1,289.1 L393.7,289.6 L394.4,290.0 L395.1,290.4 L395.7,290.9 L396.4,291.3 L397.1,291.7 L397.7,292.2 L398.4,292.6 L399.1,293.1 L399.8,293.5 L400.4,293.9 L401.1,294.3 L401.8,294.8 L402.4,295.2 L403.1,295.6 L403.8,296.0 L404.4,296.5 L405.1,296.9 L405.8,297.3 L406.5,297.7 L407.1,298.2 L407.8,298.6 L408.5,299.0 L409.1,299.4 L409.8,299.9 L410.5,300.3 L411.1,300.7 L411.8,301.1 L412.5,301.6 L413.2,302.0 L413.8,302.4 L414.5,302.8 L415.2,303.2 L415.8,303.7 L416.5,304.1 L417.2,304.5 L417.9,304.9 L418.5,305.3 L419.2,305.8 L419.9,306.2 L420.5,306.6 L421.2,307.0 L421.9,307.4 L422.5,307.9 L423.2,308.3 L423.9,308.7 L424.6,309.1 L425.2,309.5 L425.9,309.9 L426.6,310.4 L427.2,310.8 L427.9,311.2 L428.6,311.6 L429.2,312.0 L429.9,312.4 L430.6,312.8 L431.3,313.2 L431.9,313.6 L432.6,314.0 L433.3,314.5 L433.9,314.9 L434.6,315.3 L435.3,315.7 L435.9,316.1 L436.6,316.5 L437.3,317.0 L438.0,317.4 L438.6,317.8 L439.3,318.2 L440.0,318.7 L440.6,319.1 L441.3,319.5 L442.0,320.0 L442.6,320.4 L443.3,320.8 L444.0,321.3 L444.7,321.7 L445.3,322.2 L446.0,322.6 L446.7,323.0 L447.3,323.5 L448.0,323.9 L448.7,324.4 L449.3,324.8 L450.0,325.2 L450.7,325.6 L451.4,326.1 L452.0,326.5 L452.7,326.9 L453.4,327.4 L454.0,327.8 L454.7,328.2 L455.4,328.7 L456.1,329.1 L456.7,329.5 L457.4,329.9 L458.1,330.4 L458.7,330.8 L459.4,331.2 L460.1,331.7 L460.7,332.1 L461.4,332.5 L462.1,333.0 L462.8,333.4 L463.4,333.8 L464.1,334.2 L464.8,334.7 L465.4,335.1 L466.1,335.5 L466.8,336.0 L467.4,336.4 L468.1,336.8 L468.8,337.3 L469.5,337.7 L470.1,338.1 L470.8,338.6 L471.5,339.0 L472.1,339.4 L472.8,339.8 L473.5,340.3 L474.1,340.7 L474.8,341.1 L475.5,341.5 L476.2,341.9 L476.8,342.4 L477.5,342.8 L478.2,343.2 L478.8,343.6 L479.5,344.0 L480.2,344.5 L480.8,344.9 L481.5,345.3 L482.2,345.7 L482.9,346.1 L483.5,346.5 L484.2,346.9 L484.9,347.3 L485.5,347.7 L486.2,348.1 L486.9,348.5 L487.5,348.9 L488.2,349.3 L488.9,349.7 L489.6,350.1 L490.2,350.5 L490.9,350.9 L491.6,351.3 L492.2,351.6 L492.9,352.0 L493.6,352.4 L494.3,352.8 L494.9,353.2 L495.6,353.6 L496.3,354.0 L496.9,354.4 L497.6,354.8 L498.3,355.2 L498.9,355.6 L499.6,356.0 L500.3,356.4 L501.0,356.9 L501.6,357.3 L502.3,357.7 L503.0,358.2 L503.6,358.6 L504.3,359.1 L505.0,359.5 L505.6,359.9 L506.3,360.4 L507.0,360.8 L507.7,361.3 L508.3,361.7 L509.0,362.1 L509.7,362.5 L510.3,362.9 L511.0,363.3 L511.7,363.7 L512.3,364.1 L513.0,364.4 L513.7,364.8 L514.4,365.2 L515.0,365.6 L515.7,365.9 L516.4,366.3 L517.0,366.6 L517.7,367.0 L518.4,367.3 L519.0,367.7 L519.7,368.0 L520.4,368.4 L521.1,368.7 L521.7,369.1 L522.4,369.4 L523.1,369.7 L523.7,370.0 L524.4,370.4 L525.1,370.7 L525.7,371.0 L526.4,371.3 L527.1,371.6 L527.8,371.9 L528.4,372.2 L529.1,372.5 L529.8,372.8 L530.4,373.1 L531.1,373.4 L531.8,373.7 L532.5,374.0 L533.1,374.3 L533.8,374.6 L534.5,375.0 L535.1,375.3 L535.8,375.6 L536.5,375.9 L537.1,376.2 L537.8,376.5 L538.5,376.9 L539.2,377.2 L539.8,377.5 L540.5,377.9 L541.2,378.2 L541.8,378.5 L542.5,378.8 L543.2,379.1 L543.8,379.5 L544.5,379.8 L545.2,380.1 L545.9,380.4 L546.5,380.6 L547.2,380.9 L547.9,381.2 L548.5,381.4 L549.2,381.7 L549.9,381.9 L550.5,382.2 L551.2,382.4 L551.9,382.7 L552.6,382.9 L553.2,383.1 L553.9,383.3 L554.6,383.6 L555.2,383.8 L555.9,384.0 L556.6,384.2 L557.2,384.5 L557.9,384.7 L558.6,384.9 L559.3,385.2 L559.9,385.4 L560.6,385.7 L561.3,385.9 L561.9,386.2 L562.6,386.5 L563.3,386.7 L563.9,387.0 L564.6,387.3 L565.3,387.5 L566.0,387.8 L566.6,388.1 L567.3,388.3 L568.0,388.6 L568.6,388.8 L569.3,389.0 L570.0,389.2 L570.7,389.4 L571.3,389.6 L572.0,389.7 L572.7,389.9 L573.3,390.0 L574.0,390.2 L574.7,390.3 L575.3,390.4 L576.0,390.6 L576.7,390.7 L577.4,390.8 L578.0,390.9 L578.7,391.0 L579.4,391.1 L580.0,391.2 L580.7,391.3 L581.4,391.4 L582.0,391.5 L582.7,391.6 L583.4,391.7 L584.1,391.7 L584.7,391.8 L585.4,391.9 L586.1,391.9 L586.7,392.0 L587.4,392.0 L588.1,392.1 L588.7,392.1 L589.4,392.2 L590.1,392.2 L590.8,392.3 L591.4,392.3 L592.1,392.4 L592.8,392.4 L593.4,392.4 L594.1,392.5 L594.8,392.5 L595.4,392.6 L596.1,392.6 L596.8,392.7 L597.5,392.7 L598.1,392.7 L598.8,392.8 L599.5,392.8 L600.1,392.9 L600.8,392.9 L601.5,393.0 L602.1,393.0 L602.8,393.0 L603.5,393.1 L604.2,393.1 L604.8,393.1 L605.5,393.2 L606.2,393.2 L606.8,393.2 L607.5,393.3 L608.2,393.3 L608.9,393.3 L609.5,393.4 L610.2,393.4 L610.9,393.4 L611.5,393.5 L612.2,393.5 L612.9,393.5 L613.5,393.5 L614.2,393.6 L614.9,393.6 L615.6,393.6 L616.2,393.7 L616.9,393.7 L617.6,393.7 L618.2,393.7 L618.9,393.8 L619.6,393.8 L620.2,393.8 L620.9,393.8 L621.6,393.9 L622.3,393.9 L622.9,393.9 L623.6,393.9 L624.3,393.9 L624.9,394.0 L625.6,394.0 L626.3,394.0 L626.9,394.0 L627.6,394.1 L628.3,394.1 L629.0,394.1 L629.6,394.1 L630.3,394.1 L631.0,394.2 L631.6,394.2 L632.3,394.2" fill="none" stroke="#0000ff" stroke-width="1.90" stroke-linejoin="round"/>
<path d="M84.90,423.40L90.90,433.40L78.90,433.40Z" fill="#00ff00"/>
<path d="M97.06,423.40L103.06,433.40L91.06,433.40Z" fill="#00ff00"/>
<path d="M109.23,424.30L115.23,434.30L103.23,434.30Z" fill="#00ff00"/>
<path d="M121.39,417.70L127.39,427.70L115.39,427.70Z" fill="#00ff00"/>
<path d="M133.56,408.30L139.56,418.30L127.56,418.30Z" fill="#00ff00"/>
<path d="M145.72,398.30L151.72,408.30L139.72,408.30Z" fill="#00ff00"/>
<path d="M157.89,387.90L163.89,397.90L151.89,397.90Z" fill="#00ff00"/>
<path d="M170.05,374.30L176.05,384.30L164.05,384.30Z" fill="#00ff00"/>
<path d="M182.21,361.70L188.21,371.70L176.21,371.70Z" fill="#00ff00"/>
<path d="M194.38,348.10L200.38,358.10L188.38,358.10Z" fill="#00ff00"/>
<path d="M206.54,334.50L212.54,344.50L200.54,344.50Z" fill="#00ff00"/>
<path d="M218.71,315.90L224.71,325.90L212.71,325.90Z" fill="#00ff00"/>
<path d="M230.87,47.80L236.87,57.80L224.87,57.80Z" fill="#00ff00"/>
<path d="M243.04,144.80L249.04,154.80L237.04,154.80Z" fill="#00ff00"/>
<path d="M255.20,209.20L261.20,219.20L249.20,219.20Z" fill="#00ff00"/>
<path d="M267.37,238.40L273.37,248.40L261.37,248.40Z" fill="#00ff00"/>
<path d="M279.53,251.90L285.53,261.90L273.53,261.90Z" fill="#00ff00"/>
<path d="M291.70,258.70L297.70,268.70L285.70,268.70Z" fill="#00ff00"/>
<path d="M303.86,261.50L309.86,271.50L297.86,271.50Z" fill="#00ff00"/>
<path d="M316.03,263.30L322.03,273.30L310.03,273.30Z" fill="#00ff00"/>
<path d="M328.19,263.50L334.19,273.50L322.19,273.50Z" fill="#00ff00"/>
<path d="M340.35,263.80L346.35,273.80L334.35,273.80Z" fill="#00ff00"/>
<path d="M352.52,264.70L358.52,274.70L346.52,274.70Z" fill="#00ff00"/>
<path d="M364.68,268.60L370.68,278.60L358.68,278.60Z" fill="#00ff00"/>
<path d="M376.85,273.80L382.85,283.80L370.85,283.80Z" fill="#00ff00"/>
<path d="M389.01,280.10L395.01,290.10L383.01,290.10Z" fill="#00ff00"/>
<path d="M401.18,287.80L407.18,297.80L395.18,297.80Z" fill="#00ff00"/>
<path d="M413.34,295.50L419.34,305.50L407.34,305.50Z" fill="#00ff00"/>
<path d="M425.51,303.10L431.51,313.10L419.51,313.10Z" fill="#00ff00"/>
<path d="M437.67,310.60L443.67,320.60L431.67,320.60Z" fill="#00ff00"/>
<path d="M449.84,318.50L455.84,328.50L443.84,328.50Z" fill="#00ff00"/>
<path d="M462.00,326.30L468.00,336.30L456.00,336.30Z" fill="#00ff00"/>
<path d="M474.17,334.10L480.17,344.10L468.17,344.10Z" fill="#00ff00"/>
<path d="M486.33,341.60L492.33,351.60L480.33,351.60Z" fill="#00ff00"/>
<path d="M498.50,348.70L504.50,358.70L492.50,358.70Z" fill="#00ff00"/>
<path d="M510.66,356.50L516.66,366.50L504.66,366.50Z" fill="#00ff00"/>
<path d="M522.82,363.00L528.82,373.00L516.82,373.00Z" fill="#00ff00"/>
<path d="M534.99,368.60L540.99,378.60L528.99,378.60Z" fill="#00ff00"/>
<path d="M547.15,374.30L553.15,384.30L541.15,384.30Z" fill="#00ff00"/>
<path d="M559.32,378.60L565.32,388.60L553.32,388.60Z" fill="#00ff00"/>
<path d="M571.48,383.00L577.48,393.00L565.48,393.00Z" fill="#00ff00"/>
<path d="M583.65,385.10L589.65,395.10L577.65,395.10Z" fill="#00ff00"/>
<path d="M595.81,386.00L601.81,396.00L589.81,396.00Z" fill="#00ff00"/>
<path d="M607.98,386.70L613.98,396.70L601.98,396.70Z" fill="#00ff00"/>
<path d="M620.14,387.20L626.14,397.20L614.14,397.20Z" fill="#00ff00"/>
<path d="M632.31,387.60L638.31,397.60L626.31,397.60Z" fill="#00ff00"/>
<path d="M84.9,430.0 L86.0,429.9 L87.1,429.9 L88.3,429.8 L89.4,429.8 L90.5,429.7 L91.6,429.7 L92.8,429.7 L93.9,429.6 L95.0,429.6 L96.1,429.6 L97.3,429.6 L98.4,429.6 L99.5,429.6 L100.6,429.7 L101.8,429.7 L102.9,429.7 L104.0,429.8 L105.1,429.8 L106.3,429.9 L107.4,429.9 L108.5,429.9 L109.6,429.9 L110.8,429.7 L111.9,429.3 L113.0,428.7 L114.1,428.0 L115.3,427.2 L116.4,426.4 L117.5,425.4 L118.6,424.5 L119.8,423.6 L120.9,422.7 L122.0,421.8 L123.1,421.0 L124.3,420.1 L125.4,419.2 L126.5,418.2 L127.6,417.2 L128.8,416.2 L129.9,415.2 L131.0,414.2 L132.1,413.2 L133.2,412.2 L134.4,411.2 L135.5,410.2 L136.6,409.2 L137.7,408.1 L138.9,407.1 L140.0,406.1 L141.1,405.0 L142.2,404.0 L143.4,403.0 L144.5,402.0 L145.6,401.0 L146.7,400.0 L147.9,399.1 L149.0,398.1 L150.1,397.2 L151.2,396.3 L152.4,395.4 L153.5,394.4 L154.6,393.5 L155.7,392.5 L156.9,391.5 L158.0,390.4 L159.1,389.3 L160.2,388.1 L161.4,386.8 L162.5,385.6 L163.6,384.3 L164.7,383.0 L165.9,381.6 L167.0,380.3 L168.1,379.1 L169.2,377.8 L170.4,376.6 L171.5,375.4 L172.6,374.2 L173.7,373.0 L174.9,371.9 L176.0,370.8 L177.1,369.6 L178.2,368.5 L179.4,367.3 L180.5,366.1 L181.6,365.0 L182.7,363.7 L183.9,362.5 L185.0,361.3 L186.1,360.0 L187.2,358.8 L188.3,357.5 L189.5,356.2 L190.6,355.0 L191.7,353.7 L192.8,352.4 L194.0,351.2 L195.1,349.9 L196.2,348.7 L197.3,347.5 L198.5,346.3 L199.6,345.1 L200.7,343.9 L201.8,342.7 L203.0,341.4 L204.1,340.1 L205.2,338.8 L206.3,337.4 L207.5,335.9 L208.6,334.3 L209.7,332.7 L210.8,331.1 L212.0,329.3 L213.1,327.6 L214.2,325.7 L215.3,323.9 L216.5,322.0 L217.6,320.0 L218.7,318.0 L218.9,317.5 L219.0,316.9 L219.2,316.4 L219.3,315.9 L219.5,315.3 L219.6,314.8 L219.8,314.2 L219.9,313.7 L220.1,313.1 L220.2,312.5 L220.4,312.0 L220.6,311.4 L220.7,310.8 L220.9,310.3 L221.0,309.7 L221.2,309.1 L221.3,308.5 L221.5,307.9 L221.6,307.3 L221.8,306.7 L221.9,306.1 L222.1,305.5 L222.3,304.9 L222.4,304.3 L222.6,303.7 L222.7,303.1 L222.9,302.5 L223.0,301.9 L223.2,301.4 L223.3,300.8 L223.5,300.2 L223.6,299.6 L223.8,299.1 L223.9,298.5 L224.1,297.9 L224.3,297.3 L224.4,296.6 L224.6,296.0 L224.7,295.4 L224.9,294.7 L225.0,294.0 L225.2,293.3 L225.3,292.5 L225.5,291.7 L225.6,290.9 L225.8,290.1 L225.9,289.2 L226.1,288.4 L226.3,287.5 L226.4,286.8 L226.6,286.0 L226.7,285.2 L226.9,284.4 L227.0,283.4 L227.2,282.4 L227.3,281.2 L227.5,279.8 L227.6,278.2 L227.8,276.4 L227.9,274.3 L228.1,271.8 L228.3,268.4 L228.4,258.2 L228.6,243.3 L228.7,227.8 L228.9,215.2 L229.0,203.2 L229.2,191.4 L229.3,180.2 L229.5,169.8 L229.6,160.7 L229.8,152.7 L229.9,145.0 L230.1,137.7 L230.3,130.8 L230.4,124.6 L230.6,118.9 L230.7,114.1 L230.9,110.0 L231.5,114.5 L232.2,118.9 L232.9,123.2 L233.6,127.5 L234.2,131.7 L234.9,135.8 L235.6,139.9 L236.2,143.9 L236.9,147.8 L237.6,151.7 L238.2,155.5 L238.9,159.2 L239.6,162.8 L240.3,166.3 L240.9,169.7 L241.6,173.0 L242.3,176.3 L242.9,179.4 L243.6,182.5 L244.3,185.6 L244.9,188.6 L245.6,191.5 L246.3,194.5 L247.0,197.4 L247.6,200.2 L248.3,202.9 L249.0,205.6 L249.6,208.3 L250.3,210.8 L251.0,213.3 L251.6,215.7 L252.3,217.9 L253.0,220.1 L253.7,222.2 L254.3,224.2 L255.0,226.1 L255.7,227.8 L256.3,229.6 L257.0,231.3 L257.7,233.0 L258.4,234.6 L259.0,236.2 L259.7,237.7 L260.4,239.3 L261.0,240.7 L261.7,242.1 L262.4,243.4 L263.0,244.7 L263.7,245.9 L264.4,247.0 L265.1,248.1 L265.7,249.0 L266.4,249.9 L267.1,250.7 L267.7,251.4 L268.4,252.0 L269.1,252.6 L269.7,253.2 L270.4,253.7 L271.1,254.2 L271.8,254.7 L272.4,255.1 L273.1,255.6 L273.8,256.0 L274.4,256.4 L275.1,256.8 L275.8,257.2 L276.4,257.6 L277.1,258.0 L277.8,258.3 L278.5,258.7 L279.1,259.1 L279.8,259.6 L280.5,260.0 L281.1,260.5 L281.8,260.9 L282.5,261.4 L283.1,261.8 L283.8,262.3 L284.5,262.8 L285.2,263.2 L285.8,263.7 L286.5,264.1 L287.2,264.5 L287.8,264.9 L288.5,265.2 L289.2,265.6 L289.8,265.9 L290.5,266.1 L291.2,266.4 L291.9,266.5 L292.5,266.7 L293.2,266.9 L293.9,267.0 L294.5,267.1 L295.2,267.3 L295.9,267.4 L296.6,267.5 L297.2,267.6 L297.9,267.7 L298.6,267.8 L299.2,267.9 L299.9,268.0 L300.6,268.1 L301.2,268.2 L301.9,268.3 L302.6,268.4 L303.3,268.4 L303.9,268.5 L304.6,268.6 L305.3,268.6 L305.9,268.7 L306.6,268.8 L307.3,268.8 L307.9,268.9 L308.6,269.0 L309.3,269.0 L310.0,269.1 L310.6,269.1 L311.3,269.2 L312.0,269.2 L312.6,269.3 L313.3,269.3 L314.0,269.4 L314.6,269.4 L315.3,269.5 L316.0,269.5 L316.7,269.5 L317.3,269.6 L318.0,269.6 L318.7,269.6 L319.3,269.7 L320.0,269.7 L320.7,269.7 L321.3,269.8 L322.0,269.8 L322.7,269.8 L323.4,269.8 L324.0,269.9 L324.7,269.9 L325.4,269.9 L326.0,269.9 L326.7,270.0 L327.4,270.0 L328.0,270.0 L328.7,270.0 L329.4,270.0 L330.1,270.0 L330.7,270.0 L331.4,270.1 L332.1,270.1 L332.7,270.1 L333.4,270.1 L334.1,270.1 L334.7,270.1 L335.4,270.1 L336.1,270.1 L336.8,270.1 L337.4,270.1 L338.1,270.1 L338.8,270.2 L339.4,270.2 L340.1,270.2 L340.8,270.2 L341.5,270.3 L342.1,270.4 L342.8,270.5 L343.5,270.7 L344.1,270.9 L344.8,271.2 L345.5,271.4 L346.1,271.7 L346.8,272.0 L347.5,272.2 L348.2,272.5 L348.8,272.8 L349.5,273.1 L350.2,273.4 L350.8,273.7 L351.5,273.9 L352.2,274.2 L352.8,274.4 L353.5,274.6 L354.2,274.8 L354.9,275.0 L355.5,275.3 L356.2,275.5 L356.9,275.7 L357.5,275.9 L358.2,276.1 L358.9,276.3 L359.5,276.5 L360.2,276.7 L360.9,276.9 L361.6,277.1 L362.2,277.3 L362.9,277.6 L363.6,277.8 L364.2,278.0 L364.9,278.3 L365.6,278.5 L366.2,278.8 L366.9,279.1 L367.6,279.3 L368.3,279.6 L368.9,279.9 L369.6,280.1 L370.3,280.4 L370.9,280.7 L371.6,281.0 L372.3,281.3 L372.9,281.6 L373.6,281.9 L374.3,282.2 L375.0,282.5 L375.6,282.8 L376.3,283.1 L377.0,283.5 L377.6,283.8 L378.3,284.1 L379.0,284.4 L379.7,284.7 L380.3,285.1 L381.0,285.4 L381.7,285.7 L382.3,286.1 L383.0,286.4 L383.7,286.8 L384.3,287.1 L385.0,287.5 L385.7,287.9 L386.4,288.2 L387.0,288.6 L387.7,289.0 L388.4,289.3 L389.0,289.7 L389.7,290.1 L390.4,290.5 L391.0,290.9 L391.7,291.3 L392.4,291.7 L393.1,292.1 L393.7,292.6 L394.4,293.0 L395.1,293.4 L395.7,293.9 L396.4,294.3 L397.1,294.7 L397.7,295.2 L398.4,295.6 L399.1,296.1 L399.8,296.5 L400.4,296.9 L401.1,297.3 L401.8,297.8 L402.4,298.2 L403.1,298.6 L403.8,299.0 L404.4,299.5 L405.1,299.9 L405.8,300.3 L406.5,300.7 L407.1,301.2 L407.8,301.6 L408.5,302.0 L409.1,302.4 L409.8,302.9 L410.5,303.3 L411.1,303.7 L411.8,304.1 L412.5,304.6 L413.2,305.0 L413.8,305.4 L414.5,305.8 L415.2,306.2 L415.8,306.7 L416.5,307.1 L417.2,307.5 L417.9,307.9 L418.5,308.3 L419.2,308.8 L419.9,309.2 L420.5,309.6 L421.2,310.0 L421.9,310.4 L422.5,310.9 L423.2,311.3 L423.9,311.7 L424.6,312.1 L425.2,312.5 L425.9,312.9 L426.6,313.4 L427.2,313.8 L427.9,314.2 L428.6,314.6 L429.2,315.0 L429.9,315.4 L430.6,315.8 L431.3,316.2 L431.9,316.6 L432.6,317.0 L433.3,317.5 L433.9,317.9 L434.6,318.3 L435.3,318.7 L435.9,319.1 L436.6,319.5 L437.3,320.0 L438.0,320.4 L438.6,320.8 L439.3,321.2 L440.0,321.7 L440.6,322.1 L441.3,322.5 L442.0,323.0 L442.6,323.4 L443.3,323.8 L444.0,324.3 L444.7,324.7 L445.3,325.2 L446.0,325.6 L446.7,326.0 L447.3,326.5 L448.0,326.9 L448.7,327.4 L449.3,327.8 L450.0,328.2 L450.7,328.6 L451.4,329.1 L452.0,329.5 L452.7,329.9 L453.4,330.4 L454.0,330.8 L454.7,331.2 L455.4,331.7 L456.1,332.1 L456.7,332.5 L457.4,332.9 L458.1,333.4 L458.7,333.8 L459.4,334.2 L460.1,334.7 L460.7,335.1 L461.4,335.5 L462.1,336.0 L462.8,336.4 L463.4,336.8 L464.1,337.2 L464.8,337.7 L465.4,338.1 L466.1,338.5 L466.8,339.0 L467.4,339.4 L468.1,339.8 L468.8,340.3 L469.5,340.7 L470.1,341.1 L470.8,341.6 L471.5,342.0 L472.1,342.4 L472.8,342.8 L473.5,343.3 L474.1,343.7 L474.8,344.1 L475.5,344.5 L476.2,344.9 L476.8,345.4 L477.5,345.8 L478.2,346.2 L478.8,346.6 L479.5,347.0 L480.2,347.5 L480.8,347.9 L481.5,348.3 L482.2,348.7 L482.9,349.1 L483.5,349.5 L484.2,349.9 L484.9,350.3 L485.5,350.7 L486.2,351.1 L486.9,351.5 L487.5,351.9 L488.2,352.3 L488.9,352.7 L489.6,353.1 L490.2,353.5 L490.9,353.9 L491.6,354.3 L492.2,354.6 L492.9,355.0 L493.6,355.4 L494.3,355.8 L494.9,356.2 L495.6,356.6 L496.3,357.0 L496.9,357.4 L497.6,357.8 L498.3,358.2 L498.9,358.6 L499.6,359.0 L500.3,359.4 L501.0,359.9 L501.6,360.3 L502.3,360.7 L503.0,361.2 L503.6,361.6 L504.3,362.1 L505.0,362.5 L505.6,362.9 L506.3,363.4 L507.0,363.8 L507.7,364.3 L508.3,364.7 L509.0,365.1 L509.7,365.5 L510.3,365.9 L511.0,366.3 L511.7,366.7 L512.3,367.1 L513.0,367.4 L513.7,367.8 L514.4,368.2 L515.0,368.6 L515.7,368.9 L516.4,369.3 L517.0,369.6 L517.7,370.0 L518.4,370.3 L519.0,370.7 L519.7,371.0 L520.4,371.4 L521.1,371.7 L521.7,372.1 L522.4,372.4 L523.1,372.7 L523.7,373.0 L524.4,373.4 L525.1,373.7 L525.7,374.0 L526.4,374.3 L527.1,374.6 L527.8,374.9 L528.4,375.2 L529.1,375.5 L529.8,375.8 L530.4,376.1 L531.1,376.4 L531.8,376.7 L532.5,377.0 L533.1,377.3 L533.8,377.6 L534.5,378.0 L535.1,378.3 L535.8,378.6 L536.5,378.9 L537.1,379.2 L537.8,379.6 L538.5,379.9 L539.2,380.3 L539.8,380.6 L540.5,380.9 L541.2,381.3 L541.8,381.6 L542.5,381.9 L543.2,382.3 L543.8,382.6 L544.5,382.9 L545.2,383.1 L545.9,383.4 L546.5,383.7 L547.2,383.9 L547.9,384.1 L548.5,384.3 L549.2,384.5 L549.9,384.7 L550.5,384.9 L551.2,385.1 L551.9,385.3 L552.6,385.4 L553.2,385.6 L553.9,385.8 L554.6,385.9 L555.2,386.1 L555.9,386.3 L556.6,386.4 L557.2,386.6 L557.9,386.8 L558.6,387.0 L559.3,387.2 L559.9,387.4 L560.6,387.6 L561.3,387.9 L561.9,388.1 L562.6,388.4 L563.3,388.7 L563.9,388.9 L564.6,389.2 L565.3,389.5 L566.0,389.7 L566.6,390.0 L567.3,390.3 L568.0,390.5 L568.6,390.8 L569.3,391.0 L570.0,391.2 L570.7,391.4 L571.3,391.6 L572.0,391.7 L572.7,391.9 L573.3,392.0 L574.0,392.2 L574.7,392.3 L575.3,392.4 L576.0,392.6 L576.7,392.7 L577.4,392.8 L578.0,392.9 L578.7,393.0 L579.4,393.1 L580.0,393.2 L580.7,393.3 L581.4,393.4 L582.0,393.5 L582.7,393.6 L583.4,393.7 L584.1,393.7 L584.7,393.8 L585.4,393.9 L586.1,393.9 L586.7,394.0 L587.4,394.0 L588.1,394.1 L588.7,394.1 L589.4,394.2 L590.1,394.2 L590.8,394.3 L591.4,394.3 L592.1,394.4 L592.8,394.4 L593.4,394.4 L594.1,394.5 L594.8,394.5 L595.4,394.6 L596.1,394.6 L596.8,394.7 L597.5,394.7 L598.1,394.7 L598.8,394.8 L599.5,394.8 L600.1,394.9 L600.8,394.9 L601.5,395.0 L602.1,395.0 L602.8,395.0 L603.5,395.1 L604.2,395.1 L604.8,395.1 L605.5,395.2 L606.2,395.2 L606.8,395.2 L607.5,395.3 L608.2,395.3 L608.9,395.3 L609.5,395.4 L610.2,395.4 L610.9,395.4 L611.5,395.5 L612.2,395.5 L612.9,395.5 L613.5,395.5 L614.2,395.6 L614.9,395.6 L615.6,395.6 L616.2,395.7 L616.9,395.7 L617.6,395.7 L618.2,395.7 L618.9,395.8 L619.6,395.8 L620.2,395.8 L620.9,395.8 L621.6,395.9 L622.3,395.9 L622.9,395.9 L623.6,395.9 L624.3,395.9 L624.9,396.0 L625.6,396.0 L626.3,396.0 L626.9,396.0 L627.6,396.1 L628.3,396.1 L629.0,396.1 L629.6,396.1 L630.3,396.1 L631.0,396.2 L631.6,396.2 L632.3,396.2" fill="none" stroke="#ff00ff" stroke-width="1.90" stroke-linejoin="round"/>
<path d="M84.90,424.50 L86.46,428.26 L90.51,428.58 L87.42,431.22 L88.37,435.17 L84.90,433.05 L81.43,435.17 L82.38,431.22 L79.29,428.58 L83.34,428.26Z" fill="#0000ff"/>
<path d="M97.06,424.10 L98.62,427.86 L102.67,428.18 L99.58,430.82 L100.53,434.77 L97.06,432.65 L93.59,434.77 L94.54,430.82 L91.45,428.18 L95.50,427.86Z" fill="#0000ff"/>
<path d="M109.23,424.40 L110.78,428.16 L114.84,428.48 L111.75,431.12 L112.69,435.07 L109.23,432.95 L105.76,435.07 L106.71,431.12 L103.62,428.48 L107.67,428.16Z" fill="#0000ff"/>
<path d="M121.39,416.80 L122.95,420.56 L127.00,420.88 L123.91,423.52 L124.86,427.47 L121.39,425.35 L117.92,427.47 L118.87,423.52 L115.78,420.88 L119.83,420.56Z" fill="#0000ff"/>
<path d="M133.56,406.40 L135.11,410.16 L139.17,410.48 L136.08,413.12 L137.02,417.07 L133.56,414.95 L130.09,417.07 L131.04,413.12 L127.94,410.48 L132.00,410.16Z" fill="#0000ff"/>
<path d="M145.72,395.40 L147.28,399.16 L151.33,399.48 L148.24,402.12 L149.19,406.07 L145.72,403.95 L142.25,406.07 L143.20,402.12 L140.11,399.48 L144.16,399.16Z" fill="#0000ff"/>
<path d="M157.89,385.00 L159.44,388.76 L163.50,389.08 L160.41,391.72 L161.35,395.67 L157.89,393.55 L154.42,395.67 L155.37,391.72 L152.27,389.08 L156.33,388.76Z" fill="#0000ff"/>
<path d="M170.05,371.40 L171.61,375.16 L175.66,375.48 L172.57,378.12 L173.52,382.07 L170.05,379.95 L166.58,382.07 L167.53,378.12 L164.44,375.48 L168.49,375.16Z" fill="#0000ff"/>
<path d="M182.21,358.80 L183.77,362.56 L187.83,362.88 L184.73,365.52 L185.68,369.47 L182.21,367.35 L178.75,369.47 L179.69,365.52 L176.60,362.88 L180.66,362.56Z" fill="#0000ff"/>
<path d="M194.38,345.20 L195.94,348.96 L199.99,349.28 L196.90,351.92 L197.85,355.87 L194.38,353.75 L190.91,355.87 L191.86,351.92 L188.77,349.28 L192.82,348.96Z" fill="#0000ff"/>
<path d="M206.54,331.60 L208.10,335.36 L212.16,335.68 L209.06,338.32 L210.01,342.27 L206.54,340.15 L203.08,342.27 L204.02,338.32 L200.93,335.68 L204.99,335.36Z" fill="#0000ff"/>
<path d="M218.71,312.50 L220.27,316.26 L224.32,316.58 L221.23,319.22 L222.18,323.17 L218.71,321.05 L215.24,323.17 L216.19,319.22 L213.10,316.58 L217.15,316.26Z" fill="#0000ff"/>
<path d="M230.87,104.50 L232.43,108.26 L236.48,108.58 L233.39,111.22 L234.34,115.17 L230.87,113.05 L227.41,115.17 L228.35,111.22 L225.26,108.58 L229.32,108.26Z" fill="#0000ff"/>
<path d="M243.04,174.40 L244.60,178.16 L248.65,178.48 L245.56,181.12 L246.51,185.07 L243.04,182.95 L239.57,185.07 L240.52,181.12 L237.43,178.48 L241.48,178.16Z" fill="#0000ff"/>
<path d="M255.20,221.10 L256.76,224.86 L260.81,225.18 L257.72,227.82 L258.67,231.77 L255.20,229.65 L251.73,231.77 L252.68,227.82 L249.59,225.18 L253.64,224.86Z" fill="#0000ff"/>
<path d="M267.37,245.50 L268.92,249.26 L272.98,249.58 L269.89,252.22 L270.84,256.17 L267.37,254.05 L263.90,256.17 L264.85,252.22 L261.76,249.58 L265.81,249.26Z" fill="#0000ff"/>
<path d="M279.53,253.90 L281.09,257.66 L285.14,257.98 L282.05,260.62 L283.00,264.57 L279.53,262.45 L276.06,264.57 L277.01,260.62 L273.92,257.98 L277.97,257.66Z" fill="#0000ff"/>
<path d="M291.70,261.00 L293.25,264.76 L297.31,265.08 L294.22,267.72 L295.16,271.67 L291.70,269.55 L288.23,271.67 L289.18,267.72 L286.09,265.08 L290.14,264.76Z" fill="#0000ff"/>
<path d="M303.86,263.00 L305.42,266.76 L309.47,267.08 L306.38,269.72 L307.33,273.67 L303.86,271.55 L300.39,273.67 L301.34,269.72 L298.25,267.08 L302.30,266.76Z" fill="#0000ff"/>
<path d="M316.03,264.00 L317.58,267.76 L321.64,268.08 L318.55,270.72 L319.49,274.67 L316.03,272.55 L312.56,274.67 L313.51,270.72 L310.41,268.08 L314.47,267.76Z" fill="#0000ff"/>
<path d="M328.19,264.50 L329.75,268.26 L333.80,268.58 L330.71,271.22 L331.66,275.17 L328.19,273.05 L324.72,275.17 L325.67,271.22 L322.58,268.58 L326.63,268.26Z" fill="#0000ff"/>
<path d="M340.35,264.70 L341.91,268.46 L345.97,268.78 L342.88,271.42 L343.82,275.37 L340.35,273.25 L336.89,275.37 L337.83,271.42 L334.74,268.78 L338.80,268.46Z" fill="#0000ff"/>
<path d="M352.52,268.80 L354.08,272.56 L358.13,272.88 L355.04,275.52 L355.99,279.47 L352.52,277.35 L349.05,279.47 L350.00,275.52 L346.91,272.88 L350.96,272.56Z" fill="#0000ff"/>
<path d="M364.68,272.70 L366.24,276.46 L370.30,276.78 L367.20,279.42 L368.15,283.37 L364.68,281.25 L361.22,283.37 L362.16,279.42 L359.07,276.78 L363.13,276.46Z" fill="#0000ff"/>
<path d="M376.85,277.90 L378.41,281.66 L382.46,281.98 L379.37,284.62 L380.32,288.57 L376.85,286.45 L373.38,288.57 L374.33,284.62 L371.24,281.98 L375.29,281.66Z" fill="#0000ff"/>
<path d="M389.01,284.20 L390.57,287.96 L394.62,288.28 L391.53,290.92 L392.48,294.87 L389.01,292.75 L385.55,294.87 L386.49,290.92 L383.40,288.28 L387.46,287.96Z" fill="#0000ff"/>
<path d="M401.18,291.90 L402.74,295.66 L406.79,295.98 L403.70,298.62 L404.65,302.57 L401.18,300.45 L397.71,302.57 L398.66,298.62 L395.57,295.98 L399.62,295.66Z" fill="#0000ff"/>
<path d="M413.34,299.60 L414.90,303.36 L418.95,303.68 L415.86,306.32 L416.81,310.27 L413.34,308.15 L409.87,310.27 L410.82,306.32 L407.73,303.68 L411.79,303.36Z" fill="#0000ff"/>
<path d="M425.51,307.20 L427.06,310.96 L431.12,311.28 L428.03,313.92 L428.98,317.87 L425.51,315.75 L422.04,317.87 L422.99,313.92 L419.90,311.28 L423.95,310.96Z" fill="#0000ff"/>
<path d="M437.67,314.70 L439.23,318.46 L443.28,318.78 L440.19,321.42 L441.14,325.37 L437.67,323.25 L434.20,325.37 L435.15,321.42 L432.06,318.78 L436.11,318.46Z" fill="#0000ff"/>
<path d="M449.84,322.60 L451.39,326.36 L455.45,326.68 L452.36,329.32 L453.30,333.27 L449.84,331.15 L446.37,333.27 L447.32,329.32 L444.23,326.68 L448.28,326.36Z" fill="#0000ff"/>
<path d="M462.00,330.40 L463.56,334.16 L467.61,334.48 L464.52,337.12 L465.47,341.07 L462.00,338.95 L458.53,341.07 L459.48,337.12 L456.39,334.48 L460.44,334.16Z" fill="#0000ff"/>
<path d="M474.17,338.20 L475.72,341.96 L479.78,342.28 L476.69,344.92 L477.63,348.87 L474.17,346.75 L470.70,348.87 L471.65,344.92 L468.55,342.28 L472.61,341.96Z" fill="#0000ff"/>
<path d="M486.33,345.70 L487.89,349.46 L491.94,349.78 L488.85,352.42 L489.80,356.37 L486.33,354.25 L482.86,356.37 L483.81,352.42 L480.72,349.78 L484.77,349.46Z" fill="#0000ff"/>
<path d="M498.50,352.80 L500.05,356.56 L504.11,356.88 L501.02,359.52 L501.96,363.47 L498.50,361.35 L495.03,363.47 L495.97,359.52 L492.88,356.88 L496.94,356.56Z" fill="#0000ff"/>
<path d="M510.66,360.60 L512.22,364.36 L516.27,364.68 L513.18,367.32 L514.13,371.27 L510.66,369.15 L507.19,371.27 L508.14,367.32 L505.05,364.68 L509.10,364.36Z" fill="#0000ff"/>
<path d="M522.82,367.10 L524.38,370.86 L528.44,371.18 L525.34,373.82 L526.29,377.77 L522.82,375.65 L519.36,377.77 L520.30,373.82 L517.21,371.18 L521.27,370.86Z" fill="#0000ff"/>
<path d="M534.99,372.70 L536.55,376.46 L540.60,376.78 L537.51,379.42 L538.46,383.37 L534.99,381.25 L531.52,383.37 L532.47,379.42 L529.38,376.78 L533.43,376.46Z" fill="#0000ff"/>
<path d="M547.15,378.40 L548.71,382.16 L552.76,382.48 L549.67,385.12 L550.62,389.07 L547.15,386.95 L543.69,389.07 L544.63,385.12 L541.54,382.48 L545.60,382.16Z" fill="#0000ff"/>
<path d="M559.32,381.70 L560.88,385.46 L564.93,385.78 L561.84,388.42 L562.79,392.37 L559.32,390.25 L555.85,392.37 L556.80,388.42 L553.71,385.78 L557.76,385.46Z" fill="#0000ff"/>
<path d="M571.48,386.10 L573.04,389.86 L577.09,390.18 L574.00,392.82 L574.95,396.77 L571.48,394.65 L568.01,396.77 L568.96,392.82 L565.87,390.18 L569.93,389.86Z" fill="#0000ff"/>
<path d="M583.65,388.20 L585.21,391.96 L589.26,392.28 L586.17,394.92 L587.12,398.87 L583.65,396.75 L580.18,398.87 L581.13,394.92 L578.04,392.28 L582.09,391.96Z" fill="#0000ff"/>
<path d="M595.81,389.10 L597.37,392.86 L601.42,393.18 L598.33,395.82 L599.28,399.77 L595.81,397.65 L592.34,399.77 L593.29,395.82 L590.20,393.18 L594.25,392.86Z" fill="#0000ff"/>
<path d="M607.98,389.80 L609.53,393.56 L613.59,393.88 L610.50,396.52 L611.44,400.47 L607.98,398.35 L604.51,400.47 L605.46,396.52 L602.37,393.88 L606.42,393.56Z" fill="#0000ff"/>
<path d="M620.14,390.30 L621.70,394.06 L625.75,394.38 L622.66,397.02 L623.61,400.97 L620.14,398.85 L616.67,400.97 L617.62,397.02 L614.53,394.38 L618.58,394.06Z" fill="#0000ff"/>
<path d="M632.31,390.70 L633.86,394.46 L637.92,394.78 L634.83,397.42 L635.77,401.37 L632.31,399.25 L628.84,401.37 L629.79,397.42 L626.69,394.78 L630.75,394.46Z" fill="#0000ff"/>
<path d="M84.9,429.9 L86.0,429.9 L87.1,429.9 L88.3,429.8 L89.4,429.8 L90.5,429.8 L91.6,429.7 L92.8,429.6 L93.9,429.6 L95.0,429.5 L96.1,429.4 L97.3,429.3 L98.4,429.1 L99.5,428.8 L100.6,428.4 L101.8,428.0 L102.9,427.5 L104.0,426.9 L105.1,426.2 L106.3,425.6 L107.4,424.9 L108.5,424.2 L109.6,423.5 L110.8,422.8 L111.9,421.9 L113.0,421.0 L114.1,420.0 L115.3,418.9 L116.4,417.9 L117.5,416.8 L118.6,415.7 L119.8,414.6 L120.9,413.5 L122.0,412.4 L123.1,411.4 L124.3,410.3 L125.4,409.2 L126.5,408.1 L127.6,407.0 L128.8,405.9 L129.9,404.8 L131.0,403.7 L132.1,402.6 L133.2,401.5 L134.4,400.4 L135.5,399.3 L136.6,398.2 L137.7,397.0 L138.9,395.9 L140.0,394.8 L141.1,393.6 L142.2,392.5 L143.4,391.4 L144.5,390.2 L145.6,389.1 L146.7,388.0 L147.9,386.9 L149.0,385.8 L150.1,384.7 L151.2,383.6 L152.4,382.5 L153.5,381.3 L154.6,380.2 L155.7,379.1 L156.9,378.0 L158.0,376.8 L159.1,375.6 L160.2,374.4 L161.4,373.2 L162.5,372.0 L163.6,370.8 L164.7,369.5 L165.9,368.3 L167.0,367.0 L168.1,365.8 L169.2,364.6 L170.4,363.4 L171.5,362.2 L172.6,361.0 L173.7,359.8 L174.9,358.6 L176.0,357.4 L177.1,356.2 L178.2,355.0 L179.4,353.8 L180.5,352.6 L181.6,351.4 L182.7,350.1 L183.9,348.9 L185.0,347.7 L186.1,346.4 L187.2,345.2 L188.3,343.9 L189.5,342.7 L190.6,341.4 L191.7,340.2 L192.8,338.9 L194.0,337.6 L195.1,336.3 L196.2,335.0 L197.3,333.7 L198.5,332.4 L199.6,331.1 L200.7,329.8 L201.8,328.4 L203.0,327.1 L204.1,325.6 L205.2,324.2 L206.3,322.7 L207.5,321.1 L208.6,319.5 L209.7,317.8 L210.8,316.1 L212.0,314.4 L213.1,312.5 L214.2,310.7 L215.3,308.8 L216.5,306.9 L217.6,304.9 L218.7,302.9 L218.9,302.5 L219.0,302.0 L219.2,301.6 L219.3,301.1 L219.5,300.6 L219.6,300.1 L219.8,299.7 L219.9,299.2 L220.1,298.7 L220.2,298.1 L220.4,297.6 L220.6,297.1 L220.7,296.5 L220.9,296.0 L221.0,295.4 L221.2,294.9 L221.3,294.3 L221.5,293.7 L221.6,293.1 L221.8,292.6 L221.9,292.0 L222.1,291.4 L222.3,290.8 L222.4,290.1 L222.6,289.5 L222.7,288.9 L222.9,288.3 L223.0,287.6 L223.2,287.0 L223.3,286.3 L223.5,285.7 L223.6,285.0 L223.8,284.3 L223.9,283.6 L224.1,282.9 L224.3,282.2 L224.4,281.4 L224.6,280.7 L224.7,279.9 L224.9,279.1 L225.0,278.3 L225.2,277.5 L225.3,276.7 L225.5,275.8 L225.6,274.9 L225.8,274.0 L225.9,273.1 L226.1,272.2 L226.3,271.2 L226.4,270.2 L226.6,269.2 L226.7,268.1 L226.9,267.0 L227.0,265.9 L227.2,264.7 L227.3,263.4 L227.5,262.1 L227.6,260.8 L227.8,259.4 L227.9,257.9 L228.1,256.3 L228.3,254.3 L228.4,252.2 L228.6,250.0 L228.7,247.7 L228.9,245.4 L229.0,243.3 L229.2,241.4 L229.3,239.5 L229.5,237.7 L229.6,236.0 L229.8,234.3 L229.9,232.7 L230.1,231.3 L230.3,230.0 L230.4,228.9 L230.6,227.8 L230.7,226.9 L230.9,226.1 L231.5,227.4 L232.2,228.6 L232.9,229.8 L233.6,231.0 L234.2,232.2 L234.9,233.4 L235.6,234.5 L236.2,235.6 L236.9,236.7 L237.6,237.7 L238.2,238.7 L238.9,239.7 L239.6,240.6 L240.3,241.6 L240.9,242.5 L241.6,243.3 L242.3,244.1 L242.9,244.9 L243.6,245.6 L244.3,246.3 L244.9,247.0 L245.6,247.7 L246.3,248.3 L247.0,249.0 L247.6,249.6 L248.3,250.2 L249.0,250.7 L249.6,251.3 L250.3,251.8 L251.0,252.4 L251.6,252.9 L252.3,253.4 L253.0,253.9 L253.7,254.4 L254.3,254.9 L255.0,255.4 L255.7,256.0 L256.3,256.5 L257.0,257.0 L257.7,257.5 L258.4,257.9 L259.0,258.4 L259.7,258.9 L260.4,259.4 L261.0,259.9 L261.7,260.3 L262.4,260.8 L263.0,261.2 L263.7,261.6 L264.4,262.0 L265.1,262.4 L265.7,262.8 L266.4,263.1 L267.1,263.5 L267.7,263.8 L268.4,264.1 L269.1,264.4 L269.7,264.7 L270.4,265.0 L271.1,265.3 L271.8,265.6 L272.4,265.9 L273.1,266.2 L273.8,266.4 L274.4,266.7 L275.1,266.9 L275.8,267.1 L276.4,267.3 L277.1,267.5 L277.8,267.7 L278.5,267.8 L279.1,267.9 L279.8,268.0 L280.5,268.1 L281.1,268.2 L281.8,268.3 L282.5,268.3 L283.1,268.4 L283.8,268.5 L284.5,268.5 L285.2,268.6 L285.8,268.6 L286.5,268.7 L287.2,268.7 L287.8,268.8 L288.5,268.8 L289.2,268.9 L289.8,268.9 L290.5,268.9 L291.2,269.0 L291.9,269.0 L292.5,269.0 L293.2,269.1 L293.9,269.1 L294.5,269.1 L295.2,269.1 L295.9,269.2 L296.6,269.2 L297.2,269.2 L297.9,269.2 L298.6,269.2 L299.2,269.3 L299.9,269.3 L300.6,269.3 L301.2,269.3 L301.9,269.3 L302.6,269.4 L303.3,269.4 L303.9,269.4 L304.6,269.4 L305.3,269.5 L305.9,269.5 L306.6,269.5 L307.3,269.6 L307.9,269.6 L308.6,269.6 L309.3,269.7 L310.0,269.7 L310.6,269.7 L311.3,269.8 L312.0,269.8 L312.6,269.8 L313.3,269.9 L314.0,269.9 L314.6,269.9 L315.3,269.9 L316.0,269.9 L316.7,269.9 L317.3,269.9 L318.0,269.9 L318.7,269.9 L319.3,269.9 L320.0,269.9 L320.7,269.9 L321.3,269.9 L322.0,269.9 L322.7,269.9 L323.4,269.9 L324.0,269.9 L324.7,269.9 L325.4,269.9 L326.0,269.9 L326.7,269.9 L327.4,269.9 L328.0,269.9 L328.7,269.9 L329.4,269.9 L330.1,269.9 L330.7,269.9 L331.4,269.9 L332.1,269.9 L332.7,270.0 L333.4,270.0 L334.1,270.0 L334.7,270.0 L335.4,270.0 L336.1,270.1 L336.8,270.1 L337.4,270.1 L338.1,270.2 L338.8,270.2 L339.4,270.2 L340.1,270.3 L340.8,270.3 L341.5,270.4 L342.1,270.6 L342.8,270.8 L343.5,271.0 L344.1,271.3 L344.8,271.6 L345.5,272.0 L346.1,272.3 L346.8,272.7 L347.5,273.1 L348.2,273.5 L348.8,273.9 L349.5,274.3 L350.2,274.7 L350.8,275.1 L351.5,275.5 L352.2,275.8 L352.8,276.2 L353.5,276.5 L354.2,276.8 L354.9,277.1 L355.5,277.5 L356.2,277.8 L356.9,278.1 L357.5,278.5 L358.2,278.8 L358.9,279.1 L359.5,279.5 L360.2,279.8 L360.9,280.1 L361.6,280.5 L362.2,280.8 L362.9,281.2 L363.6,281.5 L364.2,281.9 L364.9,282.2 L365.6,282.6 L366.2,282.9 L366.9,283.3 L367.6,283.6 L368.3,284.0 L368.9,284.3 L369.6,284.7 L370.3,285.1 L370.9,285.4 L371.6,285.8 L372.3,286.2 L372.9,286.5 L373.6,286.9 L374.3,287.3 L375.0,287.6 L375.6,288.0 L376.3,288.4 L377.0,288.8 L377.6,289.1 L378.3,289.5 L379.0,289.9 L379.7,290.3 L380.3,290.7 L381.0,291.1 L381.7,291.5 L382.3,291.9 L383.0,292.2 L383.7,292.6 L384.3,293.0 L385.0,293.4 L385.7,293.8 L386.4,294.2 L387.0,294.6 L387.7,295.0 L388.4,295.4 L389.0,295.8 L389.7,296.2 L390.4,296.6 L391.0,297.0 L391.7,297.4 L392.4,297.8 L393.1,298.2 L393.7,298.6 L394.4,299.0 L395.1,299.4 L395.7,299.8 L396.4,300.2 L397.1,300.6 L397.7,301.0 L398.4,301.4 L399.1,301.8 L399.8,302.2 L400.4,302.6 L401.1,303.0 L401.8,303.5 L402.4,303.9 L403.1,304.3 L403.8,304.7 L404.4,305.2 L405.1,305.6 L405.8,306.0 L406.5,306.5 L407.1,306.9 L407.8,307.3 L408.5,307.8 L409.1,308.2 L409.8,308.6 L410.5,309.1 L411.1,309.5 L411.8,309.9 L412.5,310.4 L413.2,310.8 L413.8,311.2 L414.5,311.6 L415.2,312.0 L415.8,312.5 L416.5,312.9 L417.2,313.3 L417.9,313.7 L418.5,314.1 L419.2,314.5 L419.9,314.9 L420.5,315.3 L421.2,315.7 L421.9,316.1 L422.5,316.6 L423.2,317.0 L423.9,317.4 L424.6,317.8 L425.2,318.2 L425.9,318.6 L426.6,319.1 L427.2,319.5 L427.9,319.9 L428.6,320.4 L429.2,320.8 L429.9,321.2 L430.6,321.7 L431.3,322.1 L431.9,322.5 L432.6,323.0 L433.3,323.4 L433.9,323.8 L434.6,324.3 L435.3,324.7 L435.9,325.1 L436.6,325.5 L437.3,326.0 L438.0,326.4 L438.6,326.8 L439.3,327.2 L440.0,327.6 L440.6,328.0 L441.3,328.4 L442.0,328.8 L442.6,329.2 L443.3,329.6 L444.0,330.0 L444.7,330.4 L445.3,330.8 L446.0,331.2 L446.7,331.5 L447.3,331.9 L448.0,332.3 L448.7,332.7 L449.3,333.1 L450.0,333.5 L450.7,333.9 L451.4,334.3 L452.0,334.7 L452.7,335.1 L453.4,335.5 L454.0,335.8 L454.7,336.2 L455.4,336.6 L456.1,337.0 L456.7,337.4 L457.4,337.8 L458.1,338.2 L458.7,338.6 L459.4,339.0 L460.1,339.4 L460.7,339.8 L461.4,340.1 L462.1,340.5 L462.8,340.9 L463.4,341.4 L464.1,341.8 L464.8,342.2 L465.4,342.6 L466.1,343.0 L466.8,343.4 L467.4,343.8 L468.1,344.2 L468.8,344.6 L469.5,345.0 L470.1,345.4 L470.8,345.9 L471.5,346.3 L472.1,346.7 L472.8,347.1 L473.5,347.5 L474.1,347.9 L474.8,348.3 L475.5,348.7 L476.2,349.1 L476.8,349.5 L477.5,349.9 L478.2,350.3 L478.8,350.7 L479.5,351.1 L480.2,351.5 L480.8,351.9 L481.5,352.3 L482.2,352.7 L482.9,353.1 L483.5,353.5 L484.2,353.9 L484.9,354.3 L485.5,354.7 L486.2,355.0 L486.9,355.4 L487.5,355.8 L488.2,356.1 L488.9,356.5 L489.6,356.9 L490.2,357.2 L490.9,357.6 L491.6,358.0 L492.2,358.3 L492.9,358.7 L493.6,359.0 L494.3,359.4 L494.9,359.7 L495.6,360.1 L496.3,360.4 L496.9,360.8 L497.6,361.1 L498.3,361.5 L498.9,361.8 L499.6,362.2 L500.3,362.5 L501.0,362.9 L501.6,363.2 L502.3,363.6 L503.0,363.9 L503.6,364.3 L504.3,364.6 L505.0,365.0 L505.6,365.3 L506.3,365.7 L507.0,366.0 L507.7,366.3 L508.3,366.7 L509.0,367.0 L509.7,367.4 L510.3,367.7 L511.0,368.1 L511.7,368.4 L512.3,368.8 L513.0,369.2 L513.7,369.5 L514.4,369.9 L515.0,370.3 L515.7,370.6 L516.4,371.0 L517.0,371.4 L517.7,371.7 L518.4,372.1 L519.0,372.5 L519.7,372.8 L520.4,373.1 L521.1,373.5 L521.7,373.8 L522.4,374.1 L523.1,374.4 L523.7,374.7 L524.4,375.0 L525.1,375.3 L525.7,375.5 L526.4,375.8 L527.1,376.1 L527.8,376.3 L528.4,376.6 L529.1,376.8 L529.8,377.1 L530.4,377.3 L531.1,377.6 L531.8,377.8 L532.5,378.0 L533.1,378.3 L533.8,378.5 L534.5,378.8 L535.1,379.1 L535.8,379.3 L536.5,379.6 L537.1,379.8 L537.8,380.1 L538.5,380.4 L539.2,380.6 L539.8,380.9 L540.5,381.2 L541.2,381.4 L541.8,381.7 L542.5,381.9 L543.2,382.2 L543.8,382.5 L544.5,382.7 L545.2,383.0 L545.9,383.2 L546.5,383.5 L547.2,383.7 L547.9,384.0 L548.5,384.2 L549.2,384.4 L549.9,384.7 L550.5,384.9 L551.2,385.1 L551.9,385.4 L552.6,385.6 L553.2,385.8 L553.9,386.1 L554.6,386.3 L555.2,386.5 L555.9,386.7 L556.6,387.0 L557.2,387.2 L557.9,387.4 L558.6,387.6 L559.3,387.8 L559.9,388.0 L560.6,388.2 L561.3,388.4 L561.9,388.6 L562.6,388.8 L563.3,389.0 L563.9,389.2 L564.6,389.4 L565.3,389.6 L566.0,389.7 L566.6,389.9 L567.3,390.1 L568.0,390.3 L568.6,390.4 L569.3,390.6 L570.0,390.7 L570.7,390.8 L571.3,391.0 L572.0,391.1 L572.7,391.2 L573.3,391.3 L574.0,391.4 L574.7,391.5 L575.3,391.6 L576.0,391.7 L576.7,391.8 L577.4,391.9 L578.0,392.0 L578.7,392.1 L579.4,392.1 L580.0,392.2 L580.7,392.3 L581.4,392.4 L582.0,392.4 L582.7,392.5 L583.4,392.6 L584.1,392.6 L584.7,392.7 L585.4,392.8 L586.1,392.8 L586.7,392.9 L587.4,392.9 L588.1,393.0 L588.7,393.0 L589.4,393.1 L590.1,393.1 L590.8,393.2 L591.4,393.2 L592.1,393.2 L592.8,393.3 L593.4,393.3 L594.1,393.4 L594.8,393.4 L595.4,393.5 L596.1,393.5 L596.8,393.6 L597.5,393.6 L598.1,393.7 L598.8,393.7 L599.5,393.8 L600.1,393.8 L600.8,393.9 L601.5,394.0 L602.1,394.0 L602.8,394.1 L603.5,394.1 L604.2,394.2 L604.8,394.2 L605.5,394.3 L606.2,394.3 L606.8,394.3 L607.5,394.4 L608.2,394.4 L608.9,394.4 L609.5,394.5 L610.2,394.5 L610.9,394.5 L611.5,394.5 L612.2,394.6 L612.9,394.6 L613.5,394.6 L614.2,394.6 L614.9,394.6 L615.6,394.7 L616.2,394.7 L616.9,394.7 L617.6,394.7 L618.2,394.7 L618.9,394.8 L619.6,394.8 L620.2,394.8 L620.9,394.8 L621.6,394.8 L622.3,394.9 L622.9,394.9 L623.6,394.9 L624.3,394.9 L624.9,395.0 L625.6,395.0 L626.3,395.0 L626.9,395.0 L627.6,395.0 L628.3,395.1 L629.0,395.1 L629.6,395.1 L630.3,395.1 L631.0,395.2 L631.6,395.2 L632.3,395.2" fill="none" stroke="#008000" stroke-width="1.90" stroke-linejoin="round"/>
<path d="M84.90,423.55L91.25,429.90L84.90,436.25L78.55,429.90Z" fill="#00ffff"/>
<path d="M97.06,422.95L103.41,429.30L97.06,435.65L90.71,429.30Z" fill="#00ffff"/>
<path d="M109.23,417.45L115.58,423.80L109.23,430.15L102.88,423.80Z" fill="#00ffff"/>
<path d="M121.39,406.65L127.74,413.00L121.39,419.35L115.04,413.00Z" fill="#00ffff"/>
<path d="M133.56,394.85L139.91,401.20L133.56,407.55L127.21,401.20Z" fill="#00ffff"/>
<path d="M145.72,382.65L152.07,389.00L145.72,395.35L139.37,389.00Z" fill="#00ffff"/>
<path d="M157.89,370.55L164.24,376.90L157.89,383.25L151.54,376.90Z" fill="#00ffff"/>
<path d="M170.05,357.35L176.40,363.70L170.05,370.05L163.70,363.70Z" fill="#00ffff"/>
<path d="M182.21,344.35L188.56,350.70L182.21,357.05L175.86,350.70Z" fill="#00ffff"/>
<path d="M194.38,330.75L200.73,337.10L194.38,343.45L188.03,337.10Z" fill="#00ffff"/>
<path d="M206.54,316.05L212.89,322.40L206.54,328.75L200.19,322.40Z" fill="#00ffff"/>
<path d="M218.71,296.55L225.06,302.90L218.71,309.25L212.36,302.90Z" fill="#00ffff"/>
<path d="M230.87,219.75L237.22,226.10L230.87,232.45L224.52,226.10Z" fill="#00ffff"/>
<path d="M243.04,238.65L249.39,245.00L243.04,251.35L236.69,245.00Z" fill="#00ffff"/>
<path d="M255.20,249.25L261.55,255.60L255.20,261.95L248.85,255.60Z" fill="#00ffff"/>
<path d="M267.37,257.25L273.72,263.60L267.37,269.95L261.02,263.60Z" fill="#00ffff"/>
<path d="M279.53,261.65L285.88,268.00L279.53,274.35L273.18,268.00Z" fill="#00ffff"/>
<path d="M291.70,262.65L298.05,269.00L291.70,275.35L285.35,269.00Z" fill="#00ffff"/>
<path d="M303.86,263.05L310.21,269.40L303.86,275.75L297.51,269.40Z" fill="#00ffff"/>
<path d="M316.03,263.55L322.38,269.90L316.03,276.25L309.68,269.90Z" fill="#00ffff"/>
<path d="M328.19,263.55L334.54,269.90L328.19,276.25L321.84,269.90Z" fill="#00ffff"/>
<path d="M340.35,263.95L346.70,270.30L340.35,276.65L334.00,270.30Z" fill="#00ffff"/>
<path d="M352.52,269.65L358.87,276.00L352.52,282.35L346.17,276.00Z" fill="#00ffff"/>
<path d="M364.68,275.75L371.03,282.10L364.68,288.45L358.33,282.10Z" fill="#00ffff"/>
<path d="M376.85,282.35L383.20,288.70L376.85,295.05L370.50,288.70Z" fill="#00ffff"/>
<path d="M389.01,289.45L395.36,295.80L389.01,302.15L382.66,295.80Z" fill="#00ffff"/>
<path d="M401.18,296.75L407.53,303.10L401.18,309.45L394.83,303.10Z" fill="#00ffff"/>
<path d="M413.34,304.55L419.69,310.90L413.34,317.25L406.99,310.90Z" fill="#00ffff"/>
<path d="M425.51,312.05L431.86,318.40L425.51,324.75L419.16,318.40Z" fill="#00ffff"/>
<path d="M437.67,319.85L444.02,326.20L437.67,332.55L431.32,326.20Z" fill="#00ffff"/>
<path d="M449.84,327.05L456.19,333.40L449.84,339.75L443.49,333.40Z" fill="#00ffff"/>
<path d="M462.00,334.15L468.35,340.50L462.00,346.85L455.65,340.50Z" fill="#00ffff"/>
<path d="M474.17,341.55L480.52,347.90L474.17,354.25L467.82,347.90Z" fill="#00ffff"/>
<path d="M486.33,348.75L492.68,355.10L486.33,361.45L479.98,355.10Z" fill="#00ffff"/>
<path d="M498.50,355.25L504.85,361.60L498.50,367.95L492.15,361.60Z" fill="#00ffff"/>
<path d="M510.66,361.55L517.01,367.90L510.66,374.25L504.31,367.90Z" fill="#00ffff"/>
<path d="M522.82,367.95L529.17,374.30L522.82,380.65L516.47,374.30Z" fill="#00ffff"/>
<path d="M534.99,372.65L541.34,379.00L534.99,385.35L528.64,379.00Z" fill="#00ffff"/>
<path d="M547.15,377.35L553.50,383.70L547.15,390.05L540.80,383.70Z" fill="#00ffff"/>
<path d="M559.32,381.45L565.67,387.80L559.32,394.15L552.97,387.80Z" fill="#00ffff"/>
<path d="M571.48,384.65L577.83,391.00L571.48,397.35L565.13,391.00Z" fill="#00ffff"/>
<path d="M583.65,386.25L590.00,392.60L583.65,398.95L577.30,392.60Z" fill="#00ffff"/>
<path d="M595.81,387.15L602.16,393.50L595.81,399.85L589.46,393.50Z" fill="#00ffff"/>
<path d="M607.98,388.05L614.33,394.40L607.98,400.75L601.63,394.40Z" fill="#00ffff"/>
<path d="M620.14,388.45L626.49,394.80L620.14,401.15L613.79,394.80Z" fill="#00ffff"/>
<path d="M632.31,388.85L638.66,395.20L632.31,401.55L625.96,395.20Z" fill="#00ffff"/>
<rect x="70.30" y="22.30" width="598.50" height="441.00" fill="none" stroke="#000" stroke-width="1.80"/>
<line x1="84.90" y1="463.30" x2="84.90" y2="455.30" stroke="#000" stroke-width="1.80"/>
<line x1="121.39" y1="463.30" x2="121.39" y2="458.80" stroke="#000" stroke-width="1.80"/>
<line x1="157.89" y1="463.30" x2="157.89" y2="455.30" stroke="#000" stroke-width="1.80"/>
<line x1="194.38" y1="463.30" x2="194.38" y2="458.80" stroke="#000" stroke-width="1.80"/>
<line x1="230.87" y1="463.30" x2="230.87" y2="455.30" stroke="#000" stroke-width="1.80"/>
<line x1="267.37" y1="463.30" x2="267.37" y2="458.80" stroke="#000" stroke-width="1.80"/>
<line x1="303.86" y1="463.30" x2="303.86" y2="455.30" stroke="#000" stroke-width="1.80"/>
<line x1="340.35" y1="463.30" x2="340.35" y2="458.80" stroke="#000" stroke-width="1.80"/>
<line x1="376.85" y1="463.30" x2="376.85" y2="455.30" stroke="#000" stroke-width="1.80"/>
<line x1="413.34" y1="463.30" x2="413.34" y2="458.80" stroke="#000" stroke-width="1.80"/>
<line x1="449.84" y1="463.30" x2="449.84" y2="455.30" stroke="#000" stroke-width="1.80"/>
<line x1="486.33" y1="463.30" x2="486.33" y2="458.80" stroke="#000" stroke-width="1.80"/>
<line x1="522.82" y1="463.30" x2="522.82" y2="455.30" stroke="#000" stroke-width="1.80"/>
<line x1="559.32" y1="463.30" x2="559.32" y2="458.80" stroke="#000" stroke-width="1.80"/>
<line x1="595.81" y1="463.30" x2="595.81" y2="455.30" stroke="#000" stroke-width="1.80"/>
<line x1="632.31" y1="463.30" x2="632.31" y2="458.80" stroke="#000" stroke-width="1.80"/>
<line x1="668.80" y1="463.30" x2="668.80" y2="455.30" stroke="#000" stroke-width="1.80"/>
<line x1="70.30" y1="426.55" x2="74.80" y2="426.55" stroke="#000" stroke-width="1.80"/>
<line x1="70.30" y1="389.80" x2="78.30" y2="389.80" stroke="#000" stroke-width="1.80"/>
<line x1="70.30" y1="353.05" x2="74.80" y2="353.05" stroke="#000" stroke-width="1.80"/>
<line x1="70.30" y1="316.30" x2="78.30" y2="316.30" stroke="#000" stroke-width="1.80"/>
<line x1="70.30" y1="279.55" x2="74.80" y2="279.55" stroke="#000" stroke-width="1.80"/>
<line x1="70.30" y1="242.80" x2="78.30" y2="242.80" stroke="#000" stroke-width="1.80"/>
<line x1="70.30" y1="206.05" x2="74.80" y2="206.05" stroke="#000" stroke-width="1.80"/>
<line x1="70.30" y1="169.30" x2="78.30" y2="169.30" stroke="#000" stroke-width="1.80"/>
<line x1="70.30" y1="132.55" x2="74.80" y2="132.55" stroke="#000" stroke-width="1.80"/>
<line x1="70.30" y1="95.80" x2="78.30" y2="95.80" stroke="#000" stroke-width="1.80"/>
<line x1="70.30" y1="59.05" x2="74.80" y2="59.05" stroke="#000" stroke-width="1.80"/>
<text transform="translate(84.90,490) scale(1,1.065)" text-anchor="middle">0</text>
<text transform="translate(157.89,490) scale(1,1.065)" text-anchor="middle">100</text>
<text transform="translate(230.87,490) scale(1,1.065)" text-anchor="middle">200</text>
<text transform="translate(303.86,490) scale(1,1.065)" text-anchor="middle">300</text>
<text transform="translate(376.85,490) scale(1,1.065)" text-anchor="middle">400</text>
<text transform="translate(449.84,490) scale(1,1.065)" text-anchor="middle">500</text>
<text transform="translate(522.82,490) scale(1,1.065)" text-anchor="middle">600</text>
<text transform="translate(595.81,490) scale(1,1.065)" text-anchor="middle">700</text>
<text transform="translate(668.80,490) scale(1,1.065)" text-anchor="middle">800</text>
<text x="60.5" y="469.70" text-anchor="end">0</text>
<text x="60.5" y="396.20" text-anchor="end">50</text>
<text x="60.5" y="322.70" text-anchor="end">100</text>
<text x="60.5" y="249.20" text-anchor="end">150</text>
<text x="60.5" y="175.70" text-anchor="end">200</text>
<text x="60.5" y="102.20" text-anchor="end">250</text>
<text x="60.5" y="28.70" text-anchor="end">300</text>
<line x1="366.00" y1="112.80" x2="415.80" y2="112.80" stroke="#000000" stroke-width="1.90"/>
<rect x="386.40" y="108.20" width="9.20" height="9.20" fill="#000000"/>
<text x="421.5" y="119.70" class="lg">Point A</text>
<line x1="366.00" y1="139.70" x2="415.80" y2="139.70" stroke="#ff0000" stroke-width="1.90"/>
<circle cx="391.00" cy="139.70" r="4.8" fill="#ff0000"/>
<text x="421.5" y="146.60" class="lg">Point B</text>
<line x1="366.00" y1="166.80" x2="415.80" y2="166.80" stroke="#0000ff" stroke-width="1.90"/>
<path d="M391.00,160.20L397.00,170.20L385.00,170.20Z" fill="#00ff00"/>
<text x="421.5" y="173.70" class="lg">Point C</text>
<line x1="366.00" y1="193.90" x2="415.80" y2="193.90" stroke="#ff00ff" stroke-width="1.90"/>
<path d="M391.00,188.40 L392.56,192.16 L396.61,192.48 L393.52,195.12 L394.47,199.07 L391.00,196.95 L387.53,199.07 L388.48,195.12 L385.39,192.48 L389.44,192.16Z" fill="#0000ff"/>
<text x="421.5" y="200.80" class="lg">Point D</text>
<line x1="366.00" y1="221.20" x2="415.80" y2="221.20" stroke="#008000" stroke-width="1.90"/>
<path d="M391.00,214.85L397.35,221.20L391.00,227.55L384.65,221.20Z" fill="#00ffff"/>
<text x="421.5" y="228.10" class="lg">Point E</text>
<text class="ttl" x="392" y="513" text-anchor="middle">Time (min)</text>
<text class="ttl2" transform="translate(25.1,242.7) rotate(-90) scale(1,1.06)" text-anchor="middle">Temperature (&#176;C)</text>
</svg>
</body></html>
